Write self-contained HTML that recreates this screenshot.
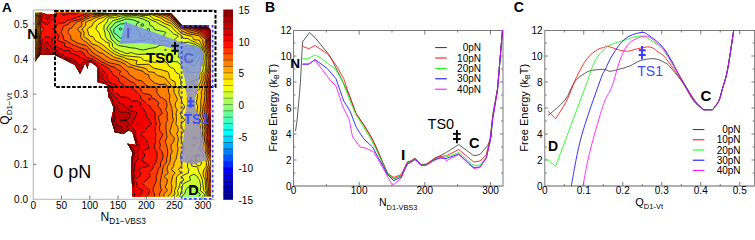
<!DOCTYPE html><html><head><meta charset="utf-8"><style>html,body{margin:0;padding:0;background:#fff;width:755px;height:224px;overflow:hidden;position:relative}</style></head><body>
<svg width="755" height="224" viewBox="0 0 755 224" style="position:absolute;left:0;top:0">
<g font-family="Liberation Sans, sans-serif">
<clipPath id="reg"><path d="M35.0,13.0 41.0,12.5 47.0,14.5 53.0,14.5 56.0,12.8 171.0,13.3 182.5,25.5 207.5,25.5 211.0,31.0 211.0,196.5 132.5,196.5 131.2,165.0 131.2,160.0 132.5,152.5 127.5,143.8 136.2,145.0 132.5,132.5 128.8,130.0 123.8,133.8 115.0,132.5 111.2,120.0 113.8,108.0 110.0,98.8 108.8,97.5 106.9,85.0 104.4,83.8 97.5,82.0 97.5,67.5 94.4,64.4 91.2,62.5 88.8,62.5 87.5,68.8 85.0,62.0 83.8,66.2 80.0,73.8 75.0,65.0 67.5,61.0 55.0,55.0 40.0,55.0 35.0,62.0Z"/></clipPath>
<g clip-path="url(#reg)">
<rect x="30" y="8" width="186" height="194" fill="#00008e"/>
<path fill-rule="evenodd" fill="#0000aa" d="M216.0,202.1 30.0,202.0 30.0,8.0 216.1,8.0 216.0,202.1Z"/>
<path fill-rule="evenodd" fill="#0000c7" d="M216.0,202.0 30.0,202.0 30.0,8.0 216.1,8.0 216.0,202.0Z"/>
<path fill-rule="evenodd" fill="#0000e3" d="M216.0,202.0 30.0,202.0 30.0,8.0 216.1,8.0 216.0,202.0Z"/>
<path fill-rule="evenodd" fill="#0000ff" d="M216.0,202.0 30.0,202.0 30.0,8.0 216.1,8.0 216.0,202.0Z"/>
<path fill-rule="evenodd" fill="#002aff" d="M216.0,202.0 30.0,202.0 30.0,8.0 216.1,8.0 216.0,202.0Z"/>
<path fill-rule="evenodd" fill="#0055ff" d="M216.0,202.0 30.0,202.0 30.0,8.0 216.1,8.0 216.0,202.0Z"/>
<path fill-rule="evenodd" fill="#0080ff" d="M216.0,202.0 31.8,202.0 31.9,201.0 30.0,197.7 30.0,8.0 216.1,8.0 216.0,202.0Z"/>
<path fill-rule="evenodd" fill="#00aaff" d="M216.0,202.0 35.1,202.0 35.0,201.0 33.0,197.5 31.5,194.0 30.8,190.5 30.0,188.5 30.0,8.0 216.1,8.0 216.0,202.0Z"/>
<path fill-rule="evenodd" fill="#00d4ff" d="M216.0,202.0 38.0,202.0 37.9,201.0 36.0,197.5 35.0,194.0 34.0,192.8 33.1,191.0 32.2,187.2 30.0,181.2 30.0,8.0 216.1,8.0 216.0,202.0Z"/>
<path fill-rule="evenodd" fill="#00ffff" d="M216.0,202.0 41.0,202.0 40.7,201.0 38.2,197.5 37.8,194.0 35.0,190.5 35.1,187.0 31.3,176.5 31.3,173.0 30.0,167.1 30.0,8.0 216.1,8.0 216.0,202.0Z"/>
<path fill-rule="evenodd" fill="#22ffdd" d="M216.0,202.0 43.7,202.0 42.9,200.5 40.4,197.5 40.3,193.8 39.8,192.0 38.9,190.0 38.0,186.0 35.5,180.0 33.7,176.5 34.5,173.0 33.0,169.5 32.4,165.8 30.0,158.0 30.0,8.0 216.1,8.0 216.0,202.0Z"/>
<path fill-rule="evenodd" fill="#44ffbb" d="M216.0,202.0 46.5,202.0 44.9,199.0 43.8,197.5 44.0,194.0 43.2,190.5 41.4,187.0 40.9,183.5 38.7,180.0 36.1,176.5 38.0,173.0 35.6,169.5 35.1,166.0 34.3,162.5 33.8,159.0 32.3,155.5 32.1,151.8 30.8,145.0 30.0,143.3 30.0,8.0 216.1,8.0 216.0,202.0Z"/>
<path fill-rule="evenodd" fill="#66ff99" d="M216.0,202.0 50.1,202.0 49.4,201.0 48.0,197.5 47.7,193.5 46.6,190.5 44.5,187.0 43.7,183.5 41.5,179.5 39.0,176.5 41.6,173.0 39.2,170.5 38.4,169.2 37.1,162.5 37.0,159.0 35.4,155.2 34.8,152.0 34.7,148.2 33.8,144.8 32.4,141.2 32.2,138.0 31.6,136.0 30.8,131.0 30.9,127.5 30.0,125.6 30.0,41.7 30.4,39.5 30.3,36.0 30.7,32.5 30.7,29.0 30.0,25.5 30.0,8.0 216.1,8.0 216.0,202.0ZM120.8,30.0 122.2,29.0 120.5,27.9 118.9,29.0 120.2,30.1 120.8,30.0ZM194.0,53.8 194.0,53.4 193.5,53.5 193.6,53.8 194.0,53.8Z"/>
<path fill-rule="evenodd" fill="#88ff77" d="M216.0,202.0 54.2,202.0 51.4,195.0 50.1,190.5 48.7,189.0 47.5,187.1 46.4,183.5 44.2,180.0 43.6,177.8 42.7,176.5 43.5,175.2 44.0,173.0 43.0,171.2 41.2,169.2 40.0,162.5 39.8,158.8 37.5,152.0 37.4,148.2 35.8,141.5 36.1,138.0 34.5,136.0 33.6,134.5 33.6,127.5 31.6,123.8 31.7,120.2 30.1,113.2 30.0,49.5 30.6,46.5 30.6,43.2 31.1,39.8 31.1,36.0 31.5,32.5 30.6,18.5 31.1,15.0 30.0,10.2 30.0,8.0 216.1,8.0 216.0,202.0ZM120.8,38.2 123.2,37.6 124.8,36.7 126.9,34.8 127.7,32.5 128.6,31.0 129.8,30.0 131.6,29.0 129.6,27.2 127.0,25.5 126.2,22.2 126.0,22.2 125.5,23.2 124.8,23.7 120.5,24.0 119.5,24.5 115.0,27.6 113.7,29.0 114.0,32.5 114.8,33.8 117.0,34.8 120.2,38.1 120.8,38.2ZM194.3,55.5 195.5,54.4 196.1,53.5 195.2,51.5 194.1,50.0 193.8,49.9 190.3,50.2 188.2,51.4 187.3,53.5 188.2,54.7 191.2,55.5 193.8,55.7 194.3,55.5Z"/>
<path fill-rule="evenodd" fill="#aaff55" d="M216.0,202.0 58.8,202.0 56.4,198.2 54.4,194.2 53.6,190.5 51.5,188.8 49.9,187.0 49.0,183.1 48.2,181.9 46.5,180.0 47.8,176.5 46.4,173.0 45.6,169.8 44.2,167.8 43.3,166.0 42.8,162.5 42.9,159.0 41.8,155.2 40.2,151.8 39.5,145.0 38.7,141.2 38.5,138.0 37.6,136.2 35.9,134.2 36.5,130.8 36.3,127.5 33.9,123.8 33.0,113.2 32.9,109.8 32.0,106.2 30.8,99.2 31.3,88.8 30.3,85.2 30.7,81.8 30.0,79.9 30.0,73.4 30.4,71.2 30.0,70.3 30.0,60.1 30.8,55.8 30.9,53.5 30.7,50.2 31.5,46.5 32.3,32.5 31.4,18.5 32.0,15.0 30.9,8.0 216.0,8.0 216.0,202.0ZM121.2,42.2 126.0,41.6 131.8,41.6 137.2,40.9 143.0,40.8 146.0,39.9 147.8,39.0 150.0,38.5 150.6,37.8 150.9,36.0 150.0,34.2 148.8,32.8 146.2,34.3 145.2,35.5 144.3,37.0 143.6,37.5 142.8,37.6 140.5,36.6 139.9,36.0 140.0,32.5 138.8,31.2 137.2,30.2 136.4,29.0 136.2,25.5 136.6,24.5 137.2,23.2 139.0,22.6 139.4,22.2 139.3,22.0 137.5,21.6 134.9,20.5 131.8,19.5 126.0,18.9 121.5,20.7 116.9,22.0 115.0,23.0 109.8,29.0 111.0,30.9 112.7,34.8 114.8,38.1 116.5,39.8 120.2,42.3 121.2,42.2ZM143.2,26.2 143.7,25.5 143.0,23.6 141.5,24.0 141.0,24.7 140.8,25.5 142.0,26.1 143.2,26.2ZM148.8,32.0 149.5,29.2 149.2,28.8 148.5,28.5 147.2,28.9 147.0,29.2 148.0,31.2 148.8,32.0ZM154.7,43.2 154.9,43.0 154.6,39.5 154.2,39.3 152.7,39.5 152.6,39.8 153.5,41.2 153.8,43.0 154.2,43.4 154.7,43.2ZM189.7,59.8 194.0,59.0 195.2,57.2 197.1,55.8 198.0,54.0 198.0,53.0 197.3,50.2 194.0,47.9 188.2,48.3 185.0,49.2 183.0,50.2 182.4,53.5 182.8,54.2 185.1,57.0 188.2,59.9 189.7,59.8Z"/>
<path fill-rule="evenodd" fill="#ccff33" d="M216.0,202.0 202.0,202.0 201.5,200.5 200.4,199.0 199.5,198.2 197.9,197.5 199.5,196.0 200.3,194.0 197.7,192.0 195.7,188.2 194.8,187.5 193.8,187.2 188.2,187.3 186.6,188.8 185.7,190.5 184.9,193.2 182.8,195.7 182.0,197.5 182.4,199.2 183.2,201.0 182.2,202.0 62.5,202.0 62.3,201.0 60.5,199.2 59.3,197.5 57.7,194.0 56.9,190.5 55.2,188.8 52.4,187.0 51.9,183.5 51.8,180.0 51.0,179.1 50.4,177.8 49.1,173.0 48.6,169.5 46.2,165.8 45.6,162.5 46.3,159.0 44.4,155.5 44.6,152.0 43.4,150.5 42.6,148.5 40.9,137.8 39.7,134.2 39.7,130.8 39.1,127.5 36.4,123.8 35.8,120.2 36.0,109.8 34.6,106.2 33.2,99.2 33.4,95.8 33.0,92.2 33.2,88.8 32.4,85.0 32.0,81.8 30.8,78.2 31.6,71.2 30.1,67.8 30.9,64.2 30.9,60.8 31.6,57.0 31.8,53.8 31.6,50.2 32.4,46.5 33.1,32.8 32.3,18.5 32.9,15.0 32.4,11.5 32.5,8.0 216.0,8.0 216.0,202.0ZM143.4,50.0 150.5,48.3 156.0,47.5 160.0,45.0 165.8,45.7 167.5,45.2 168.5,44.7 169.2,43.8 169.6,43.0 168.8,42.0 167.8,41.2 165.5,40.5 160.0,41.0 158.8,39.5 159.9,38.2 162.0,37.5 163.1,36.8 164.4,34.5 165.8,33.0 165.9,32.5 165.5,32.2 163.5,31.6 157.0,30.3 154.5,29.6 153.6,27.5 153.0,26.7 151.8,26.0 150.0,25.5 149.4,22.0 143.0,19.0 137.2,17.3 131.8,16.9 126.0,16.8 123.0,17.6 120.5,18.6 114.5,20.1 113.0,20.7 112.0,21.5 108.2,26.0 106.7,29.0 107.8,30.7 109.3,32.5 111.4,39.5 113.5,41.1 117.3,44.8 118.5,45.4 120.2,45.9 124.2,46.4 130.0,47.7 135.8,48.3 140.8,49.7 143.4,50.0ZM194.2,65.5 197.0,62.9 199.5,58.5 199.9,57.0 200.0,53.5 199.9,50.2 199.2,49.2 196.8,47.4 193.8,45.9 188.2,45.9 182.5,46.9 177.0,47.1 175.8,47.7 174.8,48.5 173.9,50.0 174.1,50.2 177.1,51.5 178.2,52.5 178.9,53.5 178.8,55.3 178.2,57.0 178.3,57.2 182.8,59.1 184.5,60.5 186.2,62.4 188.2,63.7 191.2,64.2 193.8,65.7 194.2,65.5ZM166.2,50.2 166.4,50.0 165.8,49.5 164.5,50.0 165.5,50.4 166.2,50.2Z"/>
<path fill-rule="evenodd" fill="#eeff11" d="M216.0,202.0 205.4,202.0 205.0,201.0 204.9,197.5 204.3,194.0 200.2,190.5 200.8,187.0 200.3,183.5 199.5,179.7 198.2,178.4 197.5,176.5 194.0,174.1 189.3,176.5 190.7,180.0 183.7,183.5 182.8,184.6 181.9,187.0 181.8,190.5 180.7,194.0 178.2,199.0 176.7,201.0 176.9,202.0 66.5,202.0 66.6,201.0 64.0,199.4 62.8,198.2 62.2,197.5 62.7,194.0 60.7,190.5 58.3,187.0 58.1,183.5 56.5,182.2 54.7,179.0 52.4,176.5 50.9,168.5 49.3,162.5 49.2,159.0 47.0,155.5 48.1,152.0 47.1,150.2 45.4,148.5 44.9,147.0 44.3,145.0 44.1,141.2 42.7,134.5 42.7,130.8 41.8,127.2 39.2,123.8 39.2,116.8 38.2,113.5 38.2,109.8 37.0,106.2 35.7,99.2 35.8,95.8 34.8,92.2 35.2,88.2 34.6,85.2 33.6,83.0 32.4,78.2 32.9,74.8 32.8,71.2 31.8,67.8 31.9,60.8 32.5,57.2 32.7,53.8 32.4,50.2 33.3,46.5 33.5,39.5 34.0,32.8 33.7,25.5 33.1,18.5 33.8,15.0 33.5,11.5 34.2,8.0 216.0,8.0 216.0,202.0ZM196.9,72.2 199.5,72.1 200.2,71.2 201.0,60.8 201.7,57.2 201.8,53.8 201.3,50.2 199.5,46.6 194.0,43.8 190.8,43.1 188.2,42.1 182.8,42.8 177.0,44.2 175.5,43.6 174.8,43.0 174.8,39.5 175.7,38.5 177.5,37.2 178.3,36.0 177.0,35.1 175.0,34.5 173.6,33.8 168.6,29.0 166.2,27.3 159.0,24.0 156.2,22.0 152.0,20.4 147.7,18.0 145.8,17.4 137.2,15.6 131.8,15.3 126.0,15.4 120.5,16.2 114.8,17.6 109.0,18.0 108.2,18.5 107.1,22.0 104.2,25.5 103.8,29.0 105.0,32.5 105.2,36.0 106.2,37.5 107.2,39.6 110.4,41.5 112.2,43.0 112.6,46.5 114.8,48.7 116.8,49.4 120.5,51.3 123.8,52.4 126.0,53.6 131.8,52.6 134.5,53.8 137.5,54.4 148.8,54.0 154.2,54.5 156.2,53.9 160.0,53.7 165.8,55.9 171.2,55.0 172.0,56.0 172.3,57.2 171.9,58.5 170.9,59.5 170.4,60.5 171.2,61.6 177.0,61.7 180.8,64.8 181.4,65.8 182.1,67.8 185.2,68.3 186.5,68.9 187.1,69.8 187.5,71.2 188.2,71.9 193.8,72.5 196.9,72.2Z"/>
<path fill-rule="evenodd" fill="#ffed00" d="M216.0,202.0 207.4,202.0 206.9,200.8 205.8,193.5 205.2,191.9 203.6,190.5 202.4,180.0 200.5,174.9 199.1,172.8 198.1,169.5 197.8,167.4 196.9,166.8 193.5,166.5 191.7,166.0 190.8,161.5 190.0,161.2 188.2,161.2 187.7,162.5 187.5,166.0 187.9,167.8 188.9,169.5 188.3,173.0 182.8,175.5 181.5,176.5 184.0,180.0 181.2,181.6 179.8,183.5 179.0,187.5 177.5,190.5 178.3,194.0 177.0,196.0 175.1,197.8 174.4,199.5 173.8,202.0 70.5,202.0 70.6,201.0 70.2,200.5 65.7,197.5 68.1,194.0 65.6,191.5 62.1,187.0 61.4,183.5 60.1,181.5 58.6,180.0 57.4,176.8 56.0,174.8 55.0,173.0 54.0,169.5 53.6,162.5 50.3,155.5 50.1,152.0 49.8,151.0 46.6,145.0 46.6,141.2 45.0,134.5 45.5,130.8 44.5,127.2 42.0,123.8 42.5,120.2 42.1,116.8 40.6,113.2 40.3,109.8 39.5,106.2 37.0,92.2 36.6,85.2 34.7,81.8 34.0,78.2 34.6,74.8 32.8,62.0 33.6,53.8 33.3,50.0 34.2,46.5 34.4,43.0 34.2,39.5 34.8,32.8 34.5,29.0 34.6,25.5 33.9,18.5 34.8,15.0 34.5,11.5 35.8,8.0 216.0,8.0 216.0,202.0ZM188.4,91.5 189.6,90.0 191.2,87.4 192.2,86.6 194.0,85.9 194.6,85.2 194.0,84.4 192.3,83.2 191.4,81.8 192.2,81.0 193.3,80.5 199.5,78.9 199.8,78.0 199.7,74.8 202.8,71.0 203.3,67.8 202.9,64.2 202.9,60.8 203.6,57.2 203.5,53.8 202.7,50.0 201.0,46.5 199.5,44.5 195.5,42.3 191.2,40.7 188.2,38.6 184.5,38.4 182.8,37.9 182.0,36.0 176.9,32.5 172.5,28.1 171.2,26.3 170.5,25.8 164.0,23.4 159.3,20.5 154.2,19.2 153.3,18.8 152.8,18.5 151.2,16.6 148.8,15.4 143.0,15.5 137.5,14.6 126.0,14.3 120.5,14.8 109.2,16.4 107.5,17.1 105.8,18.1 103.5,20.9 98.0,24.6 97.1,25.5 96.5,27.6 95.7,29.0 97.8,31.0 99.0,32.8 101.2,38.0 102.0,38.9 103.5,39.8 105.3,41.5 107.0,42.4 109.1,43.0 109.3,43.2 109.3,46.8 112.9,50.2 120.5,54.4 126.0,55.8 140.0,57.2 141.8,58.2 143.2,60.0 144.5,60.5 151.2,61.4 154.5,62.5 160.0,60.9 162.0,61.5 165.8,62.1 167.9,64.0 168.9,65.8 170.0,66.9 171.2,67.7 173.1,68.2 174.0,68.9 174.6,69.8 175.2,71.5 176.0,72.5 177.0,73.2 178.8,73.8 179.6,74.5 179.8,78.2 180.5,79.6 180.9,81.5 181.0,85.2 182.5,86.2 185.0,87.3 186.0,88.5 186.9,90.8 187.8,91.5 188.2,91.7 188.4,91.5ZM188.6,100.5 190.4,99.2 189.7,97.8 188.2,96.8 187.5,97.7 187.1,99.2 188.2,100.7 188.6,100.5ZM188.6,114.5 190.9,114.0 192.1,113.2 190.5,112.5 188.2,112.1 185.8,113.2 187.5,114.2 188.6,114.5ZM193.8,125.0 194.0,124.9 194.2,124.0 194.0,123.4 193.8,123.4 193.2,124.0 193.8,125.0ZM194.4,138.8 196.8,138.1 197.0,137.8 194.0,136.5 193.0,137.0 192.3,137.8 193.2,138.6 194.4,138.8ZM194.1,146.0 194.9,145.0 194.8,144.8 194.0,144.3 192.7,144.8 192.6,145.0 193.2,145.8 193.8,146.2 194.1,146.0ZM199.6,166.0 200.8,164.5 201.7,162.5 199.5,161.2 195.8,161.1 195.6,160.2 195.6,157.5 195.9,156.5 196.8,156.2 199.5,156.1 199.9,155.5 199.5,154.4 196.2,155.0 195.0,155.8 193.8,156.0 192.5,156.8 190.9,158.8 191.0,161.0 195.5,161.2 195.7,162.8 196.5,164.5 197.8,165.5 199.6,166.0Z"/>
<path fill-rule="evenodd" fill="#ffc800" d="M216.0,202.0 209.4,202.0 208.4,200.0 206.8,193.0 205.9,190.5 205.5,187.0 205.2,180.0 203.5,176.5 203.0,173.0 204.0,169.5 205.2,168.4 206.3,166.0 206.4,162.5 205.4,158.8 203.7,156.8 202.1,152.0 199.8,149.8 197.8,148.5 198.1,148.0 199.8,146.6 200.9,145.0 200.6,141.5 201.0,137.8 200.4,131.0 200.6,127.2 199.9,125.0 199.3,123.8 199.8,122.5 200.2,120.2 199.5,118.9 198.2,118.0 197.4,116.8 196.7,113.2 197.7,106.2 196.2,102.8 197.8,95.8 196.9,93.8 195.8,92.2 197.2,90.5 199.5,89.2 199.8,88.8 198.7,85.2 199.8,83.5 201.8,78.2 201.9,74.8 205.2,70.9 205.6,67.8 204.9,64.0 204.9,60.8 205.4,57.2 205.2,53.8 204.1,50.0 202.4,46.0 200.4,43.0 199.5,40.4 197.8,40.0 193.9,39.8 193.5,39.5 192.6,37.2 191.6,36.2 186.8,35.2 182.5,33.9 180.5,32.5 177.6,29.0 175.0,27.2 171.2,23.6 165.8,21.6 160.0,17.6 152.5,15.0 148.8,14.4 143.0,14.5 132.5,13.7 126.2,13.6 119.2,14.0 109.0,15.2 105.8,16.1 102.8,17.7 99.3,18.5 98.0,19.0 96.1,20.8 93.8,22.2 92.2,25.8 87.3,29.0 88.6,34.2 89.1,35.2 89.8,36.0 92.0,36.5 93.2,37.2 94.0,38.2 94.8,39.8 96.1,41.0 103.2,45.0 106.2,48.0 110.5,51.4 116.8,55.1 119.0,56.0 123.4,57.2 126.2,58.6 137.2,60.7 136.3,63.0 136.1,64.0 136.4,64.2 137.5,64.5 148.8,64.3 153.2,67.8 154.2,68.3 161.2,69.7 167.8,71.8 168.2,72.3 168.7,73.2 169.7,78.2 171.2,79.8 175.0,81.8 175.3,85.2 177.0,87.0 179.6,88.8 178.6,92.2 179.8,95.9 181.4,99.2 181.8,102.8 183.6,104.5 184.6,106.2 183.8,109.0 181.9,110.8 180.1,113.2 181.2,115.6 183.9,118.8 184.8,120.2 184.0,121.2 182.0,122.7 181.1,124.0 181.3,127.5 182.5,129.4 184.4,130.8 184.4,131.0 182.5,132.9 181.5,134.2 181.0,137.8 181.6,142.0 182.2,143.8 183.2,145.5 183.9,148.5 182.6,151.8 181.2,153.6 180.4,155.5 180.7,159.8 181.7,162.5 181.7,165.8 179.6,168.0 178.6,169.5 179.8,171.2 180.7,173.0 176.7,176.5 176.3,180.0 176.1,187.0 174.5,190.5 175.1,194.0 170.9,197.5 171.4,201.0 170.8,202.0 74.0,202.0 72.6,199.2 71.8,198.4 70.3,197.5 71.5,196.0 72.4,194.0 69.2,190.5 65.8,185.8 63.6,180.0 61.4,176.5 61.3,174.2 61.0,173.2 59.0,172.6 58.2,172.1 57.4,169.2 57.2,166.0 57.5,162.5 54.9,159.0 54.5,155.5 52.8,153.6 52.1,152.0 50.8,145.0 49.8,142.3 48.7,137.0 47.8,134.5 48.4,130.8 47.1,127.2 45.0,123.8 45.5,120.2 43.1,113.2 42.9,109.8 42.0,106.2 40.9,99.2 39.6,95.8 39.6,92.2 38.5,88.8 38.4,85.2 37.7,83.2 36.5,81.5 35.8,79.0 35.6,78.2 36.2,74.8 35.1,71.2 35.2,67.8 34.0,64.2 33.6,62.0 34.3,57.5 34.5,54.2 34.1,50.0 35.1,46.5 35.3,43.2 35.0,39.5 35.5,36.0 35.6,32.8 35.2,29.0 35.5,25.5 34.8,18.5 35.7,15.0 35.6,11.5 36.9,8.0 216.0,8.0 216.0,202.0ZM126.8,11.8 129.2,11.2 129.8,11.0 130.2,10.5 129.1,9.8 126.0,8.9 123.0,9.8 121.6,10.5 121.9,11.0 122.5,11.2 125.4,11.8 126.8,11.8Z"/>
<path fill-rule="evenodd" fill="#ffa400" d="M167.5,202.0 82.1,202.0 81.8,201.0 81.0,200.1 78.5,199.1 77.0,197.8 76.5,194.0 72.2,189.0 70.2,185.8 68.4,183.5 68.0,180.0 65.7,176.5 66.7,173.0 64.8,171.5 61.3,169.5 60.6,162.5 59.6,160.8 58.0,159.0 59.3,155.5 58.9,154.0 56.2,147.6 55.5,145.0 52.4,141.5 52.6,138.0 53.2,134.2 51.5,130.8 49.6,127.5 48.4,123.8 48.3,120.2 46.4,116.8 45.8,113.2 45.7,109.8 43.8,102.8 43.7,99.2 41.6,95.8 42.0,92.2 40.1,88.8 40.5,81.8 39.2,80.2 38.1,78.2 37.9,74.8 36.6,71.2 37.0,67.8 35.0,64.2 34.4,62.5 35.3,54.8 35.0,50.0 36.1,45.8 36.3,43.0 35.8,39.5 36.5,36.0 36.7,32.8 36.3,29.0 36.6,25.5 35.6,18.5 36.7,15.0 37.1,11.5 38.0,8.0 112.0,8.0 110.5,9.0 110.1,9.5 110.1,10.0 111.2,10.8 113.1,11.2 120.5,12.6 126.0,12.9 133.2,12.8 133.2,13.0 133.0,13.2 120.5,13.3 109.0,14.2 103.9,15.2 96.0,17.6 93.8,18.5 91.5,19.8 85.8,22.0 85.5,25.5 84.0,27.3 81.9,29.0 83.2,30.8 84.1,32.5 83.9,36.2 85.9,38.2 89.0,40.0 90.1,41.2 90.9,43.0 92.0,43.9 96.2,45.3 98.5,46.2 102.2,49.2 114.5,57.3 120.5,59.0 124.5,61.1 128.0,62.6 130.1,64.2 131.8,65.1 145.0,68.2 146.7,69.2 148.0,71.2 148.5,71.6 154.0,72.4 155.0,73.2 156.3,74.8 157.5,75.4 164.2,77.4 165.8,78.6 167.0,80.4 169.5,83.1 171.1,85.5 174.0,88.8 174.0,92.2 175.9,95.8 177.4,99.2 177.0,100.4 175.5,102.8 175.2,106.2 176.2,108.2 177.3,109.8 176.1,113.2 176.5,120.2 175.8,123.8 178.0,127.5 178.2,130.8 176.8,134.2 177.7,136.0 178.3,137.8 178.1,141.5 177.2,145.0 178.2,148.5 176.1,159.0 174.2,162.5 173.7,166.0 171.5,169.5 175.2,173.0 173.6,174.5 172.5,176.5 171.2,183.5 172.0,187.0 171.4,192.0 170.6,194.0 168.8,195.2 167.8,197.0 167.6,197.8 168.2,201.0 167.5,202.0ZM216.0,202.0 211.2,202.0 209.6,199.0 208.2,194.8 207.3,190.5 206.9,187.0 206.5,180.0 205.7,176.2 205.8,173.0 206.5,169.5 208.2,166.0 208.7,162.5 207.5,159.0 205.9,155.5 205.2,151.6 202.1,148.5 204.0,145.0 202.6,141.2 202.8,138.0 202.4,134.2 202.8,130.8 202.2,124.0 202.3,120.2 200.6,116.8 199.8,113.2 200.6,109.8 200.8,106.5 200.7,102.8 201.5,95.8 201.1,92.2 202.4,88.8 201.5,85.2 203.8,78.2 204.0,74.8 205.2,73.4 206.4,71.2 206.9,67.8 206.6,64.0 206.7,57.2 206.5,53.8 205.5,50.0 202.8,43.0 202.7,39.8 201.0,38.1 199.5,35.9 188.2,33.7 184.0,32.0 182.5,31.1 180.3,29.0 177.5,27.1 171.2,21.3 161.3,16.0 156.5,14.8 148.8,13.7 143.0,13.7 133.1,13.2 133.2,13.0 148.8,12.4 150.5,11.8 151.1,11.2 151.0,10.7 150.2,10.0 145.1,8.0 216.0,8.0 216.0,202.0Z"/>
<path fill-rule="evenodd" fill="#ff8000" d="M164.2,202.0 85.9,202.0 85.2,201.0 84.4,198.5 82.2,196.2 81.0,194.0 76.8,189.3 75.2,188.1 74.3,187.0 74.8,185.5 75.8,183.5 75.7,180.0 72.8,178.8 71.3,177.5 70.5,176.5 69.9,173.0 67.8,171.0 65.5,169.5 65.5,166.0 63.8,163.8 62.4,158.2 62.0,155.5 62.2,152.0 60.4,148.5 59.7,144.8 56.5,141.2 56.3,138.0 56.4,134.5 55.7,132.5 54.9,130.8 52.5,128.2 51.9,127.2 52.6,123.8 51.5,121.8 49.7,116.8 49.5,113.2 48.5,109.0 47.7,106.5 46.1,102.8 46.4,99.0 43.9,92.0 42.0,88.8 42.6,85.2 42.8,81.8 40.5,78.0 39.6,74.8 38.2,71.2 38.8,67.5 35.2,61.8 35.9,58.5 36.2,55.0 35.8,50.0 37.0,46.5 37.4,43.2 36.9,39.5 37.6,36.0 37.8,32.5 37.7,25.5 36.8,18.5 38.5,11.5 39.1,8.0 105.5,8.0 104.9,9.0 104.8,10.0 105.2,10.8 106.5,11.5 109.2,12.3 117.6,13.0 109.2,13.5 105.1,14.0 97.8,15.8 92.2,16.7 86.5,19.1 84.2,20.7 81.5,22.0 82.0,25.5 81.0,26.4 78.8,27.7 77.7,29.0 78.1,30.2 78.8,31.2 80.9,32.5 80.8,34.7 80.4,36.0 81.9,38.8 83.5,40.4 86.5,42.2 89.0,44.6 97.8,51.6 100.0,52.7 103.5,53.8 105.5,55.8 108.2,57.3 110.4,58.8 112.0,59.5 115.0,60.1 120.5,62.0 125.4,64.2 126.5,65.8 127.8,66.6 133.3,67.8 134.8,68.7 136.2,69.4 143.0,71.2 143.9,72.5 145.0,73.4 146.5,74.1 148.7,74.8 149.2,78.2 154.5,82.9 160.0,84.6 165.5,84.1 166.7,85.2 167.4,87.2 168.3,88.8 168.6,92.2 170.1,95.8 169.2,99.2 170.2,103.3 171.4,106.2 172.6,113.2 172.5,116.8 173.5,120.2 171.8,123.8 171.1,127.2 170.2,129.5 169.8,131.0 171.2,134.5 174.5,138.0 173.7,141.5 171.0,145.0 171.1,148.5 172.4,152.0 171.2,153.5 170.4,155.2 170.6,159.0 169.7,162.5 168.9,164.2 167.5,166.2 167.0,169.5 168.3,173.0 167.2,174.0 165.5,175.1 164.5,176.5 165.2,177.6 166.8,178.9 167.6,180.0 166.6,184.0 165.2,187.0 166.7,189.0 167.4,190.5 163.8,194.0 164.1,197.5 164.9,201.0 164.2,202.0ZM216.0,202.0 212.8,202.0 210.6,198.0 209.0,194.0 208.3,187.0 208.2,183.5 207.4,176.5 207.4,173.0 208.1,169.5 210.0,166.0 210.9,162.5 209.5,159.0 207.5,155.5 206.7,151.8 205.6,148.5 206.0,145.0 204.7,141.2 204.1,134.5 205.2,130.8 204.2,127.2 204.9,123.8 204.4,120.2 202.7,116.8 202.0,113.2 202.8,109.8 203.0,106.2 204.0,102.8 204.8,95.8 204.7,92.2 205.1,88.8 203.9,85.2 205.2,80.5 206.0,74.8 207.7,71.2 208.2,67.8 208.3,60.8 207.8,53.8 207.1,50.2 205.6,46.5 205.2,43.0 205.5,39.5 199.5,34.3 188.2,31.7 183.7,29.2 181.0,28.1 178.0,25.9 171.2,19.1 169.2,17.5 167.7,16.8 164.5,15.5 160.0,14.4 148.8,13.2 154.5,12.3 160.0,11.9 160.6,11.5 160.6,10.5 160.0,9.7 154.1,8.0 216.0,8.0 216.0,202.0Z"/>
<path fill-rule="evenodd" fill="#ff5b00" d="M160.8,202.0 93.7,202.0 93.5,201.0 91.0,199.2 88.3,196.0 82.0,190.5 81.2,187.1 80.3,185.5 79.7,183.5 80.3,180.0 78.2,178.3 74.4,176.5 74.2,172.8 72.8,170.9 70.7,169.5 72.4,166.0 69.2,162.2 65.4,155.5 65.8,152.0 63.1,148.2 63.7,144.8 63.2,142.2 62.9,141.5 61.3,140.0 60.4,138.5 60.1,137.8 59.8,134.2 58.9,131.8 57.8,129.6 56.0,127.2 57.0,123.8 54.6,120.2 53.7,118.2 53.4,116.8 53.6,113.2 51.7,109.8 51.5,106.2 50.2,102.8 49.6,99.2 48.7,95.8 46.4,93.0 44.7,88.8 45.5,85.2 44.6,81.5 41.2,74.7 39.9,71.2 40.7,67.8 38.5,64.2 37.2,61.0 36.4,60.0 37.1,54.2 36.9,50.0 38.1,46.5 38.4,43.2 38.1,39.5 38.6,36.0 39.2,29.0 37.9,18.5 38.9,14.2 40.0,11.5 40.2,8.0 101.3,8.0 100.9,9.0 100.9,10.0 101.8,11.2 104.1,12.2 108.8,13.0 103.5,13.5 97.8,14.8 95.0,15.0 92.0,14.7 85.6,17.8 81.1,20.5 76.7,22.0 73.8,25.1 72.2,27.4 71.2,28.1 69.2,29.0 67.8,32.5 70.7,36.0 71.0,39.5 73.5,40.7 77.5,43.0 86.5,45.9 88.7,48.0 92.2,52.3 95.5,54.5 99.8,56.9 105.4,60.8 109.2,62.7 117.2,64.4 120.5,65.5 123.5,68.7 125.8,70.3 127.4,71.2 129.5,75.0 133.2,76.9 135.1,78.8 136.7,79.8 140.8,80.6 142.3,81.2 146.0,85.3 148.8,86.6 154.2,87.3 156.3,88.2 157.0,88.8 156.8,92.2 160.0,97.0 162.5,97.9 164.1,99.2 165.8,100.2 166.7,102.8 167.1,106.2 165.7,109.8 167.6,113.2 167.0,116.8 167.3,118.8 167.9,120.2 166.7,121.8 165.9,123.8 166.1,130.8 166.7,134.2 166.9,137.8 165.8,139.9 165.3,141.5 167.3,148.2 167.8,152.0 167.4,155.5 166.6,159.0 166.5,162.5 164.6,164.5 163.7,166.0 162.6,169.5 162.3,173.0 161.4,175.5 160.3,182.5 160.2,183.5 160.5,187.0 161.4,190.5 160.4,192.0 159.4,194.0 160.2,197.5 161.2,201.0 160.8,202.0ZM216.0,202.0 214.3,202.0 210.8,195.8 210.0,194.0 209.7,183.5 209.0,176.5 209.1,173.0 209.7,169.5 211.6,166.0 212.2,162.5 211.4,159.0 209.1,155.2 207.1,148.5 207.2,145.0 206.2,141.2 206.2,137.8 205.8,134.5 206.6,130.8 205.8,127.2 206.3,123.8 206.1,120.8 204.8,116.8 204.3,113.2 204.9,109.8 205.1,106.2 206.2,102.8 206.6,95.8 206.4,92.2 206.7,88.8 206.0,85.2 207.7,74.8 208.8,71.8 209.5,67.8 210.0,60.8 209.3,57.2 209.1,53.5 208.5,50.2 206.8,46.5 206.5,39.5 205.2,37.4 199.5,32.7 193.8,30.9 188.2,29.7 186.7,29.0 181.5,27.4 179.1,25.5 177.0,23.1 173.2,19.5 171.2,17.1 169.8,15.8 166.2,14.8 160.9,13.8 154.0,13.2 160.0,12.8 163.2,11.8 163.8,11.0 163.8,10.0 163.2,9.0 161.9,8.0 216.0,8.0 216.0,202.0Z"/>
<path fill-rule="evenodd" fill="#ff3700" d="M151.8,202.0 102.6,202.0 101.2,201.0 97.8,199.3 95.4,197.5 92.2,194.2 90.6,192.0 88.6,190.5 89.0,187.0 88.2,185.5 87.6,183.5 85.1,182.2 83.9,181.0 83.4,180.0 82.5,176.5 80.8,173.2 77.5,168.5 76.6,165.8 75.0,162.5 73.8,159.0 71.7,157.5 70.1,155.5 67.8,146.5 67.2,141.2 65.9,139.5 64.0,137.8 63.5,134.5 62.9,132.5 62.2,130.8 60.5,127.2 60.7,123.8 59.3,120.2 57.5,118.2 56.5,116.8 56.4,113.2 55.0,109.8 55.5,106.2 55.7,102.8 54.3,101.8 53.4,100.5 51.7,95.8 48.4,92.2 47.7,88.8 48.4,85.2 46.9,82.8 45.1,78.2 44.3,74.8 41.7,71.2 42.5,68.5 42.5,67.5 40.3,64.2 38.9,60.5 37.4,58.5 37.9,54.8 37.9,50.2 39.1,46.5 39.5,43.0 39.2,39.5 40.7,29.0 40.0,26.2 39.3,22.2 39.1,18.5 39.7,15.0 40.5,13.1 41.5,11.5 41.3,8.0 97.6,8.0 97.2,9.8 97.5,10.5 98.0,11.0 100.4,12.2 103.9,13.0 95.0,14.1 94.0,13.9 92.2,13.0 91.0,13.2 87.0,15.5 83.6,17.0 81.0,18.9 70.1,22.0 68.9,23.8 68.1,24.5 64.0,25.9 63.2,27.2 61.1,32.5 63.2,36.0 63.6,39.5 67.4,41.5 72.0,44.5 76.0,45.9 79.2,47.5 83.5,48.7 86.5,49.8 88.4,53.5 90.5,55.2 96.8,58.6 100.8,61.3 104.6,63.0 109.0,65.6 115.2,67.5 117.8,69.7 120.5,70.9 120.8,71.2 119.7,73.2 119.4,74.8 120.5,75.5 122.8,76.2 124.5,77.1 130.4,81.5 132.8,82.3 134.0,82.9 135.0,83.9 135.8,85.2 137.2,86.7 140.7,88.8 141.7,92.2 142.8,93.2 143.2,93.5 148.8,94.4 151.0,95.4 151.5,95.8 151.6,97.5 152.0,98.3 154.2,98.7 157.0,100.9 158.7,102.8 158.4,104.8 157.9,106.2 160.2,108.5 162.3,113.2 161.4,114.2 159.6,115.5 158.5,116.8 159.0,120.2 160.3,123.8 159.5,127.2 159.6,130.8 161.8,132.9 162.7,134.5 161.7,137.0 159.4,141.2 160.4,145.0 159.6,148.2 160.0,149.2 161.0,150.2 162.0,151.8 163.0,155.5 162.6,159.0 161.6,161.0 160.4,162.5 160.6,166.0 160.0,167.2 158.0,169.5 157.3,173.5 156.0,176.5 156.6,180.0 153.3,188.0 153.1,190.5 153.7,192.2 154.6,194.0 154.8,197.5 153.2,198.8 152.2,199.9 151.6,201.0 152.0,202.0 151.8,202.0ZM216.0,202.0 214.8,200.3 211.2,194.0 211.4,190.5 211.1,183.5 210.6,180.0 210.7,173.0 211.3,169.5 212.8,166.0 213.5,162.5 212.9,159.0 210.7,155.2 209.5,152.0 208.6,148.5 208.4,144.8 207.4,141.2 207.8,137.8 207.4,134.2 207.9,130.8 207.2,127.2 207.5,123.8 207.4,120.2 206.6,116.8 206.6,113.2 207.1,109.8 206.9,106.2 207.8,102.8 207.8,99.2 208.2,95.8 207.8,92.2 208.3,88.8 207.6,85.0 207.8,81.8 209.7,73.8 210.8,67.8 211.4,60.8 210.5,57.2 210.5,53.5 209.9,50.2 208.0,46.5 207.5,39.5 206.5,37.4 205.2,35.7 202.8,33.5 199.8,31.2 194.0,29.1 188.2,28.3 182.0,26.9 180.2,25.5 177.2,22.0 173.7,18.8 171.5,15.8 170.5,14.8 161.2,13.2 164.6,12.5 167.1,11.2 167.5,10.8 167.5,10.0 166.4,8.0 216.0,8.0 216.0,202.0ZM148.8,99.8 150.9,99.2 148.8,98.9 148.3,99.2 148.8,99.8Z"/>
<path fill-rule="evenodd" fill="#ff1200" d="M146.5,202.0 108.0,202.0 107.0,201.0 103.8,196.9 101.2,195.4 99.0,193.6 97.8,192.9 95.6,190.8 94.6,185.8 93.5,183.8 86.3,180.0 86.5,179.1 88.5,176.5 86.5,174.8 85.2,173.0 84.4,169.5 81.0,167.6 79.6,166.0 78.8,162.5 78.4,159.0 77.9,158.0 77.0,157.1 75.2,156.4 74.1,155.5 74.8,151.8 74.7,148.5 73.0,146.8 71.7,145.0 71.5,141.2 70.3,138.0 68.5,136.2 67.3,134.5 65.8,128.5 64.6,125.8 62.9,120.2 62.0,118.4 60.7,116.8 60.0,113.5 59.2,108.8 59.2,106.2 60.0,102.8 56.9,100.8 55.6,99.5 55.4,99.2 55.1,95.8 51.3,92.2 51.9,90.8 53.2,88.8 48.8,81.8 47.8,78.0 47.5,74.8 44.5,71.2 44.5,67.5 41.5,63.0 39.8,59.0 38.4,57.2 38.9,50.2 40.1,46.8 40.3,45.2 40.5,43.0 40.3,39.5 41.2,32.5 41.5,31.8 43.2,30.5 43.9,29.0 41.2,26.7 40.3,22.0 40.2,18.5 40.7,15.0 41.2,13.8 43.2,11.5 43.9,8.0 93.7,8.0 93.0,9.0 91.0,10.8 86.5,13.7 74.4,18.5 67.0,20.6 64.0,22.9 59.0,23.3 58.2,23.4 57.8,23.8 56.6,25.2 56.1,27.0 55.5,28.0 54.5,28.5 52.4,29.0 52.6,29.2 54.5,29.7 55.4,30.2 55.9,31.0 56.5,32.9 58.2,34.6 59.2,36.0 57.9,39.5 58.2,40.2 59.0,41.0 60.2,41.7 64.0,42.6 64.6,43.0 64.8,43.2 64.6,46.5 65.0,46.7 69.5,47.6 71.0,48.2 72.2,49.0 73.8,50.7 75.2,51.6 81.0,51.2 83.2,53.1 85.2,56.0 86.4,57.2 92.8,59.2 95.5,60.8 98.6,63.0 103.5,65.2 105.2,66.5 107.7,67.8 110.8,70.8 113.2,74.8 116.2,76.5 118.5,78.2 118.8,80.5 119.3,81.8 120.5,82.4 124.8,86.0 126.0,86.4 130.0,86.9 131.8,87.5 132.6,88.8 137.2,92.2 138.8,94.2 140.6,95.8 141.0,99.2 144.7,101.5 145.8,102.5 147.3,104.5 150.1,106.2 151.1,108.8 153.9,111.2 155.2,113.2 155.0,117.0 155.4,120.2 156.4,123.8 155.2,127.5 155.4,132.2 156.0,134.2 155.1,137.8 155.8,141.5 154.7,145.0 154.6,148.2 156.9,152.0 157.1,155.5 156.8,158.5 155.9,162.5 155.6,163.2 153.7,165.8 152.8,168.0 151.7,169.5 150.8,171.2 149.0,173.0 149.7,174.2 150.0,176.5 149.2,177.5 147.6,178.8 145.6,181.2 142.2,183.5 144.8,185.5 146.5,187.5 148.8,189.4 149.5,190.5 149.0,192.8 148.4,194.2 147.0,196.0 144.9,197.5 146.5,200.2 146.7,201.0 146.5,202.0ZM216.0,199.9 212.8,194.0 212.7,190.5 212.3,187.0 212.5,183.5 211.9,180.0 212.1,173.0 212.8,169.5 214.1,165.8 214.8,162.5 214.7,161.5 214.4,159.0 212.4,155.5 210.9,152.0 210.1,148.2 209.6,144.8 208.7,141.2 209.4,137.8 208.9,134.2 209.2,130.8 208.6,127.2 208.8,120.2 208.3,116.8 209.1,113.2 209.3,110.0 208.7,106.2 209.4,102.8 209.3,99.2 209.8,95.8 209.2,92.2 209.9,88.8 209.1,85.2 209.1,81.8 211.1,74.8 211.4,71.2 212.1,67.5 212.5,60.8 211.8,57.0 211.3,50.2 209.3,46.5 209.1,43.0 208.5,39.5 207.7,37.2 207.0,36.0 205.2,33.7 202.9,31.8 199.5,29.6 194.0,28.0 188.2,27.3 182.2,26.4 181.2,25.5 178.3,22.2 174.5,18.5 172.2,15.5 170.8,14.0 164.7,13.2 168.7,12.5 171.5,11.4 171.7,10.8 171.5,10.0 169.9,8.0 216.0,8.0 216.0,199.9ZM95.0,13.5 94.2,13.0 94.2,12.2 94.5,11.8 100.2,13.0 95.0,13.5Z"/>
<path fill-rule="evenodd" fill="#f20000" d="M47.2,24.6 47.0,24.7 41.8,22.0 41.7,20.5 41.6,18.5 42.5,15.0 44.1,13.2 45.5,9.7 46.6,8.0 89.6,8.0 86.5,10.9 79.2,12.5 77.0,13.3 75.2,14.3 73.0,13.9 69.5,13.7 66.5,14.3 63.8,15.3 61.3,13.8 59.0,11.5 58.2,11.1 57.5,11.4 56.9,12.2 56.2,16.0 55.2,18.0 49.5,22.0 48.5,23.7 47.2,24.6ZM216.0,160.4 215.8,158.8 214.0,155.5 212.5,152.0 210.0,141.5 211.0,137.8 210.5,134.2 210.6,130.8 210.0,127.2 210.1,120.2 210.0,116.8 211.3,113.2 211.3,110.0 210.5,106.2 211.0,102.8 210.8,99.2 211.4,95.8 210.7,92.2 211.4,88.8 210.7,85.2 210.5,81.8 211.7,78.2 212.6,74.8 213.4,67.5 213.5,60.8 212.4,50.2 210.5,46.5 210.4,43.0 209.0,37.2 208.6,36.0 205.2,31.7 203.4,30.2 201.2,29.0 199.5,28.4 194.0,27.1 182.2,25.8 178.8,22.0 176.4,19.8 172.8,15.2 171.0,13.5 169.0,13.2 171.2,13.0 173.3,15.0 173.5,15.5 175.8,17.1 179.0,18.1 179.5,17.9 179.8,16.8 179.8,15.0 178.7,13.5 177.5,11.5 174.5,9.6 172.7,8.0 216.0,8.0 216.0,160.4ZM95.5,13.0 94.9,13.0 95.5,13.0ZM183.2,24.2 184.2,23.4 184.3,23.0 184.0,22.2 182.5,21.8 181.7,20.5 180.5,19.4 179.5,19.0 179.0,19.0 178.9,19.5 179.4,20.5 181.5,22.5 181.5,23.0 182.5,23.6 183.0,24.3 183.2,24.2ZM123.2,202.0 118.1,202.0 117.2,201.2 117.0,201.0 117.5,200.0 119.4,197.5 116.3,196.2 112.8,195.5 111.8,195.0 111.2,194.0 111.6,190.5 110.2,189.0 109.2,187.0 107.2,187.8 103.5,188.1 101.1,187.0 103.0,183.5 98.0,179.8 96.6,179.2 96.0,178.8 94.5,175.2 93.5,174.0 92.1,173.0 92.2,169.5 90.2,168.2 86.5,166.7 84.9,165.8 84.2,162.5 84.2,161.0 84.3,159.0 85.4,155.5 83.8,153.8 82.2,151.3 79.4,148.5 78.6,145.8 76.7,143.5 76.2,142.0 75.8,138.8 74.7,135.0 74.5,134.5 72.2,132.7 71.0,131.0 71.3,127.2 70.4,125.8 68.9,123.8 67.1,120.2 65.1,113.2 65.4,109.8 64.7,108.8 62.8,107.2 62.0,106.2 63.0,102.8 62.7,101.2 62.2,100.5 61.5,100.0 58.1,99.2 58.5,95.8 57.5,93.7 56.1,92.2 56.3,88.8 55.8,87.0 54.8,85.2 52.5,83.7 51.1,81.8 51.5,80.1 52.5,78.2 52.5,78.0 50.9,74.8 47.4,71.2 47.0,70.3 46.4,67.5 45.4,65.2 41.2,59.0 40.1,56.8 39.2,56.0 40.1,50.0 42.2,43.0 42.1,39.5 43.8,38.0 45.9,36.8 47.0,36.3 50.0,37.3 52.5,38.5 53.2,39.8 52.0,41.9 51.7,43.0 51.8,43.2 52.5,43.9 55.2,45.3 57.4,47.0 61.3,49.0 63.8,50.6 67.5,50.6 69.5,50.2 70.1,52.2 71.0,53.2 77.5,55.3 79.1,56.2 81.3,58.2 82.2,58.8 85.0,59.4 87.2,60.3 88.8,60.3 92.0,60.9 94.8,62.6 99.5,66.4 101.4,68.5 103.2,71.2 105.8,72.9 107.3,74.5 107.5,74.8 107.2,78.2 108.9,81.8 112.0,83.4 114.8,84.2 116.4,85.2 114.8,86.9 113.0,87.8 111.8,88.8 113.0,90.2 113.6,92.2 114.8,93.4 118.0,94.2 118.8,94.9 119.2,95.8 120.5,96.7 127.8,97.5 129.2,98.3 130.6,100.0 131.8,100.9 137.2,100.8 138.9,102.0 140.7,102.8 141.1,106.2 143.1,108.2 146.2,113.2 146.5,116.8 148.8,119.0 151.6,123.8 149.2,126.2 147.1,127.5 145.1,131.2 144.5,132.0 141.2,133.6 140.4,134.5 141.5,135.7 143.2,136.4 144.2,137.2 147.0,141.2 148.9,148.2 148.5,148.7 146.5,149.1 144.8,149.7 143.0,151.1 142.8,152.0 144.3,154.0 145.0,155.5 144.4,156.8 143.0,157.7 142.3,159.0 143.0,161.5 147.5,164.0 148.5,164.9 148.8,166.0 146.8,166.7 141.5,167.8 140.0,168.5 139.0,169.2 138.8,169.5 139.4,171.0 141.0,173.0 139.4,176.5 136.8,178.0 135.2,180.0 137.2,183.5 137.1,187.0 142.8,190.5 141.3,194.0 140.2,195.8 139.1,199.8 138.0,201.0 137.2,201.3 134.8,201.1 126.2,199.8 125.2,200.3 123.2,202.0ZM137.6,124.5 138.4,123.8 137.5,122.8 136.5,123.8 137.2,124.5 137.6,124.5ZM92.3,162.5 92.0,162.3 91.8,162.5 92.3,162.5ZM216.0,197.5 214.5,194.0 213.4,187.2 213.8,183.5 213.3,180.0 213.5,173.0 216.0,163.0 216.0,197.5ZM109.2,197.9 108.8,197.5 109.2,197.1 109.7,197.5 109.2,197.9Z"/>
<path fill-rule="evenodd" fill="#d90000" d="M81.2,10.0 77.8,9.7 76.2,9.2 75.2,8.6 72.2,9.2 69.5,10.0 68.5,9.2 67.6,8.0 85.7,8.0 83.8,9.2 81.2,10.0ZM216.0,156.2 214.0,151.8 213.2,148.5 212.7,145.0 211.4,141.5 212.4,137.8 212.0,134.5 211.9,130.8 211.4,127.2 211.3,124.0 211.6,117.0 212.9,113.2 213.0,110.0 212.2,106.2 212.5,102.8 212.2,99.2 212.9,95.8 212.3,92.2 212.7,88.8 212.2,85.2 212.2,81.8 214.0,74.8 214.6,67.8 214.7,64.0 214.5,57.2 213.5,50.2 211.8,46.5 211.7,43.0 210.5,39.8 210.2,36.2 208.8,34.0 206.2,30.8 205.2,29.7 204.1,29.0 199.6,27.5 194.0,26.4 182.5,25.5 187.4,24.5 188.7,23.8 188.9,23.2 187.4,21.5 183.9,18.5 182.9,15.0 181.2,13.4 179.0,10.8 175.1,8.0 216.0,8.0 216.0,156.2ZM47.0,19.6 45.8,18.5 45.9,15.0 46.5,11.5 47.0,10.6 48.9,11.5 50.2,13.6 52.4,15.0 49.9,16.2 49.1,17.2 48.5,18.5 47.0,19.6ZM175.8,18.3 175.8,18.1 175.8,18.3ZM176.0,18.6 176.0,18.3 176.2,18.5 176.0,18.6ZM176.2,18.9 176.2,18.5 176.5,18.8 176.2,18.9ZM176.5,19.1 176.5,18.8 176.7,19.0 176.5,19.1ZM176.8,19.5 176.8,19.1 176.9,19.2 176.8,19.5ZM133.5,198.0 132.5,198.2 131.2,197.8 130.7,197.5 130.4,196.5 130.0,194.0 131.2,190.5 131.0,189.0 130.8,187.8 129.7,186.8 129.3,185.8 128.9,180.0 127.8,176.4 127.0,175.9 125.8,175.6 123.8,175.9 122.6,176.5 123.9,178.0 124.8,180.0 121.8,182.4 120.2,183.3 118.2,182.9 117.0,182.4 116.2,181.5 115.7,180.0 114.8,179.2 109.2,180.9 107.7,180.0 105.8,178.4 103.5,177.3 102.5,176.5 102.9,173.0 101.0,171.1 99.2,168.0 96.2,166.0 97.2,160.9 98.0,159.0 97.8,158.3 97.2,157.8 96.2,157.3 92.2,156.9 90.8,155.9 90.3,155.2 90.4,154.0 90.7,152.8 91.2,152.0 89.0,150.5 87.8,148.5 85.8,146.8 84.6,144.8 83.8,143.8 82.5,142.9 80.8,142.1 80.1,141.5 80.1,141.2 81.0,140.3 86.3,138.2 86.6,137.8 84.7,136.5 83.2,134.2 82.6,133.8 78.5,131.8 77.1,130.8 76.3,127.2 77.0,125.5 78.5,124.0 78.4,123.8 76.7,123.0 75.5,122.0 72.2,116.8 71.8,113.2 69.2,112.0 68.3,111.0 67.7,109.8 68.1,107.2 68.5,106.7 69.5,106.2 69.5,102.8 68.0,98.7 67.4,97.8 66.5,97.1 63.5,96.0 62.0,94.0 61.0,92.2 60.8,88.8 59.9,85.2 58.2,82.8 56.8,81.8 56.6,78.2 55.0,74.8 51.2,71.2 49.8,67.5 48.7,65.5 47.6,64.2 46.6,63.5 44.8,61.2 43.2,58.0 41.2,56.5 40.1,55.0 40.8,52.8 41.2,49.7 44.0,46.8 46.0,42.8 47.0,41.4 49.0,44.4 51.4,46.8 52.8,49.2 57.0,50.8 59.2,53.0 63.0,54.8 66.0,57.1 71.2,58.6 72.8,59.2 74.5,60.9 76.9,62.5 78.5,64.4 79.8,65.2 81.0,65.1 81.8,64.7 82.5,64.0 83.6,62.0 84.8,61.2 85.7,61.5 87.0,62.9 88.5,61.9 91.2,62.2 94.0,63.8 97.9,67.2 100.2,72.4 101.2,73.8 102.4,74.8 102.1,78.5 103.5,79.5 106.5,82.7 108.2,84.2 109.0,85.2 108.4,88.2 108.9,89.5 112.5,94.6 117.4,99.2 118.0,101.5 118.7,102.8 122.6,104.2 124.1,105.2 126.0,107.3 127.8,107.7 128.1,108.5 128.3,109.8 131.8,111.2 135.5,111.6 136.5,112.3 136.8,113.2 135.3,115.8 133.9,120.2 131.8,123.1 131.3,125.8 131.5,127.5 134.0,129.2 135.0,131.0 135.7,134.5 135.8,138.0 137.1,142.0 139.0,144.8 139.4,146.5 139.4,148.5 138.0,150.5 137.5,152.0 138.1,159.0 137.5,160.0 135.9,161.2 135.1,162.5 134.4,169.5 133.7,173.0 134.2,174.5 134.6,176.5 133.8,178.0 133.1,180.0 134.3,183.5 133.2,187.0 133.6,190.5 134.7,194.0 134.7,196.5 134.5,197.5 133.5,198.0ZM92.5,72.8 94.0,72.2 95.2,71.2 96.4,68.0 94.0,64.8 90.8,63.3 89.8,63.8 90.2,66.4 90.7,67.8 89.5,71.2 90.8,72.4 91.8,72.8 92.5,72.8ZM103.6,88.0 104.0,87.7 104.3,86.8 103.8,86.5 103.3,86.8 103.0,87.8 103.6,88.0ZM131.8,107.1 129.5,106.8 128.9,106.2 131.8,105.6 132.8,106.2 131.8,107.1ZM216.0,193.5 214.5,187.0 215.2,183.5 214.6,180.0 214.9,173.0 216.0,168.8 216.0,193.5ZM109.6,173.5 110.8,173.0 109.0,172.7 105.8,173.0 108.2,173.6 109.6,173.5ZM126.2,187.6 120.5,187.6 120.0,187.0 120.2,185.8 120.5,185.4 120.9,186.0 121.8,186.3 126.0,186.4 127.7,187.0 126.2,187.6ZM120.8,194.0 120.0,194.0 120.5,193.5 120.8,194.0Z"/>
<path fill-rule="evenodd" fill="#c00000" d="M81.2,8.3 80.8,8.5 79.4,8.0 82.0,8.0 81.2,8.3ZM216.0,152.8 214.7,148.5 214.4,145.0 213.3,141.5 213.8,137.8 212.6,123.8 213.2,116.8 214.5,113.2 214.7,109.8 213.9,106.2 214.0,102.8 213.6,99.2 214.4,95.8 213.7,85.2 214.7,78.2 215.4,74.8 215.7,71.2 215.9,67.8 215.7,60.8 215.9,57.2 214.5,50.0 213.1,46.5 212.9,43.0 211.8,39.5 211.6,36.0 208.1,31.0 206.5,29.2 205.2,28.4 200.6,27.0 196.5,26.2 193.8,25.9 187.3,25.5 193.2,24.7 194.3,24.2 194.8,23.5 194.3,23.0 192.6,22.0 192.1,21.2 191.2,20.5 188.2,19.3 187.2,18.5 185.2,14.6 182.5,12.2 180.2,9.5 177.9,8.0 216.0,8.0 216.0,152.8ZM131.8,181.0 131.6,180.8 131.7,180.0 131.0,176.5 131.3,173.0 130.0,166.0 129.9,158.5 129.1,156.5 128.4,155.5 127.7,153.5 125.8,152.8 124.0,152.7 120.2,153.0 114.8,154.8 111.0,154.0 109.4,153.2 107.5,151.6 102.8,150.1 101.0,149.3 97.0,146.2 94.2,143.7 90.7,141.2 90.6,136.2 90.2,134.5 89.0,133.4 86.5,132.4 84.4,130.8 86.5,129.7 88.5,129.1 89.5,128.5 90.2,127.6 91.0,126.0 92.2,124.9 92.7,123.8 92.0,123.4 86.5,122.9 83.3,120.2 85.2,116.8 88.2,114.8 89.2,113.2 86.5,112.0 82.8,111.6 80.8,111.1 79.6,109.8 80.1,107.8 81.0,106.2 79.2,105.7 75.2,105.2 73.6,103.0 73.9,99.2 75.3,95.8 69.0,92.2 68.5,91.0 68.1,88.8 65.7,85.2 66.1,83.8 66.8,83.0 67.8,82.6 69.5,82.3 70.4,81.8 70.3,81.5 69.5,80.4 64.0,81.1 62.1,78.2 62.8,76.8 63.8,75.8 67.8,74.9 68.2,74.8 68.2,74.3 67.5,74.1 64.0,74.1 58.2,73.5 55.4,71.2 54.7,66.5 53.2,62.5 51.5,61.7 47.0,61.5 46.4,60.8 46.1,58.5 45.5,57.2 44.0,56.2 41.1,55.0 42.1,53.8 43.9,52.0 47.0,47.8 49.0,50.5 50.8,52.0 52.5,52.8 55.8,53.8 59.0,55.3 64.2,58.3 70.2,60.4 72.6,62.2 75.5,64.0 77.0,65.9 79.8,68.0 82.8,66.4 83.7,65.5 84.0,64.8 84.3,65.8 83.4,71.5 83.4,74.8 83.2,75.8 82.8,76.6 82.0,77.1 80.8,77.3 78.8,78.2 80.3,81.8 81.0,82.2 83.0,81.8 86.5,78.4 89.3,81.8 91.1,85.2 92.2,85.9 96.0,89.4 97.8,92.8 98.8,94.0 100.5,95.6 102.0,96.2 103.5,96.4 104.8,95.5 106.3,93.0 106.6,92.0 107.3,90.8 107.5,89.8 110.7,95.8 110.9,96.8 112.2,99.0 113.3,102.8 114.5,103.9 117.7,106.2 117.9,107.8 117.7,109.8 118.5,111.2 119.3,111.8 120.5,112.1 126.0,111.9 129.7,113.2 129.9,113.5 130.5,116.8 128.0,119.0 126.0,120.2 120.5,120.0 120.0,120.2 120.5,120.7 126.0,120.4 127.2,121.2 127.8,122.2 128.4,123.8 127.0,127.2 129.5,128.6 132.9,131.5 133.5,132.6 134.0,134.5 134.2,137.2 134.0,137.9 132.4,136.0 131.3,135.2 130.7,134.5 130.5,133.9 128.8,133.1 126.0,134.7 125.1,136.8 122.8,139.8 122.9,140.0 123.5,140.3 125.8,140.3 127.5,140.8 130.0,142.0 132.5,143.6 135.5,144.3 135.4,143.2 134.6,141.2 134.8,140.5 135.0,140.3 135.7,142.8 136.8,145.0 136.7,145.5 136.2,145.7 133.8,145.6 133.0,145.3 131.2,145.4 130.6,145.8 130.8,146.2 133.1,148.8 133.9,150.5 134.4,152.5 133.9,156.0 132.3,159.8 131.9,166.0 132.2,169.5 131.6,173.0 132.4,176.5 131.8,181.0ZM65.9,64.5 66.0,64.2 64.0,63.3 63.0,64.0 63.2,64.4 64.0,64.7 65.9,64.5ZM85.8,64.4 85.6,64.2 85.8,63.7 86.0,64.2 85.8,64.4ZM84.2,64.9 84.2,64.2 84.4,64.8 84.2,64.9ZM86.0,65.2 85.8,65.0 86.0,64.3 86.2,64.5 86.0,65.2ZM86.2,65.7 86.1,65.2 86.2,65.1 86.4,65.2 86.2,65.7ZM88.2,65.5 88.2,65.1 88.2,65.5ZM69.7,73.8 71.6,72.2 73.3,69.8 73.8,68.2 73.5,66.8 73.2,66.5 69.0,65.7 68.3,66.2 68.8,73.3 69.0,73.7 69.7,73.8ZM86.5,66.3 86.3,65.8 86.5,65.6 86.5,66.3ZM88.0,66.8 88.0,65.7 88.0,66.8ZM86.8,67.0 86.8,66.4 86.8,67.0ZM87.8,68.2 87.8,66.9 87.8,68.2ZM87.0,67.5 87.0,67.2 87.0,67.5ZM87.5,69.1 87.2,69.0 87.1,68.2 87.2,67.7 87.8,68.8 87.5,69.1ZM104.5,83.9 98.2,83.5 97.2,83.6 96.2,83.4 95.7,83.0 95.7,81.8 94.8,78.0 95.4,74.8 96.5,73.3 97.5,70.2 98.7,74.8 98.9,78.2 98.6,81.0 99.5,81.5 103.0,82.6 104.5,83.5 104.7,83.8 104.5,83.9ZM105.0,84.1 104.6,84.0 105.0,83.9 105.0,84.1ZM105.5,84.3 105.2,84.2 105.5,84.3ZM106.0,84.5 105.7,84.5 106.0,84.5ZM106.8,85.5 106.8,85.0 106.8,85.5ZM86.6,92.5 86.9,92.2 86.5,91.8 85.9,92.2 86.6,92.5ZM105.5,111.2 107.5,110.9 108.8,110.3 109.4,109.8 109.8,108.5 109.2,103.2 108.4,101.8 107.8,101.1 107.0,100.8 106.2,100.8 104.5,101.4 103.2,102.0 102.3,102.8 103.0,103.4 106.1,105.2 107.1,106.2 105.5,107.1 102.2,108.1 101.2,108.8 100.6,109.8 101.2,110.5 102.5,111.1 103.5,111.4 105.5,111.2ZM134.2,139.0 134.0,138.8 134.2,137.9 134.2,139.0ZM134.5,139.7 134.2,139.5 134.5,138.9 134.7,139.5 134.5,139.7ZM134.8,140.5 134.4,140.2 134.8,139.6 134.9,140.2 134.8,140.5ZM124.7,150.0 125.2,149.7 125.7,148.5 124.5,147.9 123.0,147.6 121.5,147.6 120.5,147.8 119.8,148.5 120.5,149.1 122.0,149.7 124.7,150.0ZM120.5,163.6 118.0,163.2 116.1,162.0 114.8,161.6 112.8,161.9 111.2,162.7 109.2,163.1 105.7,162.5 105.7,162.2 109.8,160.7 110.2,160.2 110.9,158.0 111.6,157.0 112.8,156.4 114.8,155.9 118.8,157.9 120.4,159.0 121.0,159.8 122.4,162.5 120.5,163.6ZM216.0,180.3 216.0,178.7 216.0,180.3ZM132.0,185.6 131.2,183.5 131.8,181.0 132.0,180.9 132.6,183.5 132.0,185.6ZM216.0,188.4 215.6,187.0 216.0,185.3 216.0,188.4ZM132.5,195.1 132.5,193.9 132.5,195.1Z"/>
<path fill-rule="evenodd" fill="#a60000" d="M216.0,52.5 215.6,50.0 214.4,46.5 214.1,43.0 213.3,39.5 213.0,36.0 210.8,32.2 208.0,29.0 205.2,27.4 199.9,26.2 194.4,25.5 199.5,24.1 200.2,23.2 200.3,22.0 199.5,21.2 196.2,19.9 194.0,18.2 191.2,17.4 189.5,16.5 188.5,15.5 186.7,13.0 181.9,8.0 216.0,8.0 216.0,52.5ZM59.8,57.4 57.8,57.1 55.0,55.4 52.5,56.5 47.0,56.1 44.2,55.0 47.0,53.0 50.0,54.1 55.2,54.9 59.2,56.8 59.9,57.2 59.8,57.4ZM60.2,57.6 59.8,57.5 60.2,57.6ZM66.0,60.3 65.7,60.2 66.0,60.3ZM66.5,60.7 66.1,60.5 66.5,60.4 66.5,60.7ZM67.0,60.9 66.6,60.8 67.0,60.6 67.2,60.8 67.0,60.9ZM67.5,61.2 67.1,61.0 67.5,60.8 67.7,61.0 67.5,61.2ZM68.0,61.4 67.6,61.2 68.0,61.1 68.2,61.2 68.0,61.4ZM68.5,61.7 68.1,61.5 68.5,61.3 68.7,61.5 68.5,61.7ZM69.0,61.9 68.6,61.8 69.0,61.6 69.2,61.8 69.0,61.9ZM69.5,62.2 69.1,62.0 69.5,61.8 69.5,62.2ZM70.0,62.3 69.6,62.2 70.0,62.2 70.0,62.3ZM70.2,62.5 70.5,62.5 70.2,62.5ZM76.8,68.4 76.8,68.0 76.8,68.4ZM77.0,68.6 77.0,68.4 77.0,68.6ZM77.2,69.2 77.1,69.0 77.2,68.6 77.4,69.0 77.2,69.2ZM80.2,74.3 79.8,74.4 79.2,74.0 78.7,72.5 77.5,70.2 77.2,69.5 77.5,69.0 80.0,72.6 80.8,71.8 81.0,72.0 80.5,74.0 80.2,74.3ZM81.8,70.3 81.8,70.0 81.8,70.3ZM81.5,70.8 81.5,70.4 81.5,70.8ZM81.2,71.4 81.2,70.9 81.2,71.4ZM81.0,72.0 80.8,71.8 81.0,71.4 81.2,71.8 81.0,72.0ZM216.0,108.2 215.6,106.2 215.5,102.8 214.9,99.2 215.9,95.8 215.2,85.2 216.0,81.9 216.0,108.2ZM109.0,98.0 108.5,97.6 108.1,96.5 108.0,95.0 108.2,94.3 108.9,95.8 109.0,97.5 109.2,97.8 109.0,98.0ZM109.2,98.1 109.1,98.0 109.2,97.8 109.2,98.1ZM109.5,98.4 109.5,98.1 109.5,98.4ZM110.0,99.0 110.0,98.7 110.0,99.0ZM110.2,139.0 109.0,139.0 108.2,138.0 108.2,137.8 109.2,136.9 111.0,136.7 112.0,136.2 112.3,135.8 112.5,134.5 109.6,127.5 109.2,123.8 108.0,121.8 107.5,120.2 109.8,117.9 110.5,116.8 111.1,113.2 112.0,111.5 112.8,108.2 112.2,106.0 112.2,104.8 112.1,104.5 112.2,103.9 112.4,104.5 114.1,106.2 114.8,107.8 114.6,109.8 113.8,112.8 113.8,114.0 114.1,115.5 114.8,116.8 114.5,120.0 116.0,123.8 117.0,125.0 117.8,125.5 120.5,126.1 120.9,126.5 121.4,127.2 121.5,129.0 121.7,130.0 123.5,132.1 124.2,131.7 124.8,131.7 125.2,131.2 126.5,130.6 127.8,130.2 128.5,130.1 128.7,130.2 127.5,131.6 123.8,134.5 120.5,135.6 118.2,135.8 116.5,136.3 115.7,137.0 114.8,138.4 110.2,139.0ZM92.2,106.6 91.5,106.2 92.2,106.2 92.2,106.6ZM216.0,144.6 215.2,141.2 215.3,137.8 213.9,123.8 214.7,116.8 216.0,113.6 216.0,144.6ZM103.5,131.0 98.8,130.8 100.8,130.5 101.9,130.0 102.6,129.0 103.0,127.5 103.5,127.1 104.3,127.5 104.1,130.8 103.5,131.0ZM128.8,130.1 128.8,129.9 128.8,130.1ZM129.2,130.3 128.9,130.2 129.2,130.3ZM128.2,145.5 127.0,144.0 127.2,143.4 128.4,143.8 128.0,144.2 128.4,145.0 128.2,145.5ZM129.0,144.0 128.3,144.0 128.5,143.9 129.0,144.0ZM128.5,145.7 128.3,145.5 128.5,145.3 128.5,145.7ZM128.8,146.2 128.6,146.0 128.8,145.6 128.8,146.2ZM129.0,146.6 128.8,146.5 129.0,146.1 129.0,146.6ZM129.2,147.2 129.1,147.0 129.2,146.6 129.2,147.2ZM129.5,147.4 129.3,147.2 129.5,147.1 129.5,147.4ZM129.8,148.0 129.6,147.8 129.8,147.4 129.9,147.8 129.8,148.0ZM132.0,156.1 131.8,155.9 131.6,154.8 131.8,154.2 131.8,153.2 132.1,152.8 131.5,152.0 130.0,148.9 129.8,148.2 130.0,147.8 132.0,150.8 132.8,152.5 132.5,154.5 132.0,156.1ZM131.8,156.9 131.6,156.2 131.8,156.0 131.8,156.9Z"/>
<path fill-rule="evenodd" fill="#8d0000" d="M216.0,47.3 214.8,39.5 214.5,36.0 212.5,32.5 211.0,30.3 209.2,28.6 206.1,27.0 202.9,26.2 197.7,25.5 200.5,24.8 202.0,24.0 202.4,23.0 201.9,21.5 199.8,19.5 191.3,15.0 188.7,11.5 185.1,8.0 216.0,8.0 216.0,47.3ZM120.8,133.5 119.5,133.6 117.2,133.2 116.0,133.2 114.6,132.8 112.7,127.2 111.9,123.2 110.6,120.5 111.5,118.2 112.6,123.5 114.3,127.8 115.3,131.8 116.2,132.2 117.5,132.2 118.0,132.5 120.5,132.8 121.2,133.2 120.8,133.5ZM216.0,128.6 215.3,123.8 216.0,118.2 216.0,128.6ZM121.5,133.5 121.1,133.5 121.5,133.5Z"/>
<linearGradient id="lst" x1="0" x2="1" y1="0" y2="0"><stop offset="0" stop-color="#7a6a28"/><stop offset="0.45" stop-color="#5a2a10"/><stop offset="0.8" stop-color="#8a0a00"/><stop offset="1" stop-color="#c00000" stop-opacity="0"/></linearGradient>
<g fill="none" stroke="#000" stroke-width="0.75">
<path d="M216.0,202.1 30.0,202.0 30.0,8.0 216.1,8.0 216.0,202.1Z"/>
<path d="M216.0,202.0 30.0,202.0 30.0,8.0 216.1,8.0 216.0,202.0Z"/>
<path d="M216.0,202.0 30.0,202.0 30.0,8.0 216.1,8.0 216.0,202.0Z"/>
<path d="M216.0,202.0 30.0,202.0 30.0,8.0 216.1,8.0 216.0,202.0Z"/>
<path d="M216.0,202.0 30.0,202.0 30.0,8.0 216.1,8.0 216.0,202.0Z"/>
<path d="M216.0,202.0 30.0,202.0 30.0,8.0 216.1,8.0 216.0,202.0Z"/>
<path d="M216.0,202.0 31.8,202.0 31.9,201.0 30.0,197.7 30.0,8.0 216.1,8.0 216.0,202.0Z"/>
<path d="M216.0,202.0 35.1,202.0 35.0,201.0 33.0,197.5 31.5,194.0 30.8,190.5 30.0,188.5 30.0,8.0 216.1,8.0 216.0,202.0Z"/>
<path d="M216.0,202.0 38.0,202.0 37.9,201.0 36.0,197.5 35.0,194.0 34.0,192.8 33.1,191.0 32.2,187.2 30.0,181.2 30.0,8.0 216.1,8.0 216.0,202.0Z"/>
<path d="M216.0,202.0 41.0,202.0 40.7,201.0 38.2,197.5 37.8,194.0 35.0,190.5 35.1,187.0 31.3,176.5 31.3,173.0 30.0,167.1 30.0,8.0 216.1,8.0 216.0,202.0Z"/>
<path d="M216.0,202.0 43.7,202.0 42.9,200.5 40.4,197.5 40.3,193.8 39.8,192.0 38.9,190.0 38.0,186.0 35.5,180.0 33.7,176.5 34.5,173.0 33.0,169.5 32.4,165.8 30.0,158.0 30.0,8.0 216.1,8.0 216.0,202.0Z"/>
<path d="M216.0,202.0 46.5,202.0 44.9,199.0 43.8,197.5 44.0,194.0 43.2,190.5 41.4,187.0 40.9,183.5 38.7,180.0 36.1,176.5 38.0,173.0 35.6,169.5 35.1,166.0 34.3,162.5 33.8,159.0 32.3,155.5 32.1,151.8 30.8,145.0 30.0,143.3 30.0,8.0 216.1,8.0 216.0,202.0Z"/>
<path d="M216.0,202.0 50.1,202.0 49.4,201.0 48.0,197.5 47.7,193.5 46.6,190.5 44.5,187.0 43.7,183.5 41.5,179.5 39.0,176.5 41.6,173.0 39.2,170.5 38.4,169.2 37.1,162.5 37.0,159.0 35.4,155.2 34.8,152.0 34.7,148.2 33.8,144.8 32.4,141.2 32.2,138.0 31.6,136.0 30.8,131.0 30.9,127.5 30.0,125.6 30.0,41.7 30.4,39.5 30.3,36.0 30.7,32.5 30.7,29.0 30.0,25.5 30.0,8.0 216.1,8.0 216.0,202.0ZM120.8,30.0 122.2,29.0 120.5,27.9 118.9,29.0 120.2,30.1 120.8,30.0ZM194.0,53.8 194.0,53.4 193.5,53.5 193.6,53.8 194.0,53.8Z"/>
<path d="M216.0,202.0 54.2,202.0 51.4,195.0 50.1,190.5 48.7,189.0 47.5,187.1 46.4,183.5 44.2,180.0 43.6,177.8 42.7,176.5 43.5,175.2 44.0,173.0 43.0,171.2 41.2,169.2 40.0,162.5 39.8,158.8 37.5,152.0 37.4,148.2 35.8,141.5 36.1,138.0 34.5,136.0 33.6,134.5 33.6,127.5 31.6,123.8 31.7,120.2 30.1,113.2 30.0,49.5 30.6,46.5 30.6,43.2 31.1,39.8 31.1,36.0 31.5,32.5 30.6,18.5 31.1,15.0 30.0,10.2 30.0,8.0 216.1,8.0 216.0,202.0ZM120.8,38.2 123.2,37.6 124.8,36.7 126.9,34.8 127.7,32.5 128.6,31.0 129.8,30.0 131.6,29.0 129.6,27.2 127.0,25.5 126.2,22.2 126.0,22.2 125.5,23.2 124.8,23.7 120.5,24.0 119.5,24.5 115.0,27.6 113.7,29.0 114.0,32.5 114.8,33.8 117.0,34.8 120.2,38.1 120.8,38.2ZM194.3,55.5 195.5,54.4 196.1,53.5 195.2,51.5 194.1,50.0 193.8,49.9 190.3,50.2 188.2,51.4 187.3,53.5 188.2,54.7 191.2,55.5 193.8,55.7 194.3,55.5Z"/>
<path d="M216.0,202.0 58.8,202.0 56.4,198.2 54.4,194.2 53.6,190.5 51.5,188.8 49.9,187.0 49.0,183.1 48.2,181.9 46.5,180.0 47.8,176.5 46.4,173.0 45.6,169.8 44.2,167.8 43.3,166.0 42.8,162.5 42.9,159.0 41.8,155.2 40.2,151.8 39.5,145.0 38.7,141.2 38.5,138.0 37.6,136.2 35.9,134.2 36.5,130.8 36.3,127.5 33.9,123.8 33.0,113.2 32.9,109.8 32.0,106.2 30.8,99.2 31.3,88.8 30.3,85.2 30.7,81.8 30.0,79.9 30.0,73.4 30.4,71.2 30.0,70.3 30.0,60.1 30.8,55.8 30.9,53.5 30.7,50.2 31.5,46.5 32.3,32.5 31.4,18.5 32.0,15.0 30.9,8.0 216.0,8.0 216.0,202.0ZM121.2,42.2 126.0,41.6 131.8,41.6 137.2,40.9 143.0,40.8 146.0,39.9 147.8,39.0 150.0,38.5 150.6,37.8 150.9,36.0 150.0,34.2 148.8,32.8 146.2,34.3 145.2,35.5 144.3,37.0 143.6,37.5 142.8,37.6 140.5,36.6 139.9,36.0 140.0,32.5 138.8,31.2 137.2,30.2 136.4,29.0 136.2,25.5 136.6,24.5 137.2,23.2 139.0,22.6 139.4,22.2 139.3,22.0 137.5,21.6 134.9,20.5 131.8,19.5 126.0,18.9 121.5,20.7 116.9,22.0 115.0,23.0 109.8,29.0 111.0,30.9 112.7,34.8 114.8,38.1 116.5,39.8 120.2,42.3 121.2,42.2ZM143.2,26.2 143.7,25.5 143.0,23.6 141.5,24.0 141.0,24.7 140.8,25.5 142.0,26.1 143.2,26.2ZM148.8,32.0 149.5,29.2 149.2,28.8 148.5,28.5 147.2,28.9 147.0,29.2 148.0,31.2 148.8,32.0ZM154.7,43.2 154.9,43.0 154.6,39.5 154.2,39.3 152.7,39.5 152.6,39.8 153.5,41.2 153.8,43.0 154.2,43.4 154.7,43.2ZM189.7,59.8 194.0,59.0 195.2,57.2 197.1,55.8 198.0,54.0 198.0,53.0 197.3,50.2 194.0,47.9 188.2,48.3 185.0,49.2 183.0,50.2 182.4,53.5 182.8,54.2 185.1,57.0 188.2,59.9 189.7,59.8Z"/>
<path d="M216.0,202.0 202.0,202.0 201.5,200.5 200.4,199.0 199.5,198.2 197.9,197.5 199.5,196.0 200.3,194.0 197.7,192.0 195.7,188.2 194.8,187.5 193.8,187.2 188.2,187.3 186.6,188.8 185.7,190.5 184.9,193.2 182.8,195.7 182.0,197.5 182.4,199.2 183.2,201.0 182.2,202.0 62.5,202.0 62.3,201.0 60.5,199.2 59.3,197.5 57.7,194.0 56.9,190.5 55.2,188.8 52.4,187.0 51.9,183.5 51.8,180.0 51.0,179.1 50.4,177.8 49.1,173.0 48.6,169.5 46.2,165.8 45.6,162.5 46.3,159.0 44.4,155.5 44.6,152.0 43.4,150.5 42.6,148.5 40.9,137.8 39.7,134.2 39.7,130.8 39.1,127.5 36.4,123.8 35.8,120.2 36.0,109.8 34.6,106.2 33.2,99.2 33.4,95.8 33.0,92.2 33.2,88.8 32.4,85.0 32.0,81.8 30.8,78.2 31.6,71.2 30.1,67.8 30.9,64.2 30.9,60.8 31.6,57.0 31.8,53.8 31.6,50.2 32.4,46.5 33.1,32.8 32.3,18.5 32.9,15.0 32.4,11.5 32.5,8.0 216.0,8.0 216.0,202.0ZM143.4,50.0 150.5,48.3 156.0,47.5 160.0,45.0 165.8,45.7 167.5,45.2 168.5,44.7 169.2,43.8 169.6,43.0 168.8,42.0 167.8,41.2 165.5,40.5 160.0,41.0 158.8,39.5 159.9,38.2 162.0,37.5 163.1,36.8 164.4,34.5 165.8,33.0 165.9,32.5 165.5,32.2 163.5,31.6 157.0,30.3 154.5,29.6 153.6,27.5 153.0,26.7 151.8,26.0 150.0,25.5 149.4,22.0 143.0,19.0 137.2,17.3 131.8,16.9 126.0,16.8 123.0,17.6 120.5,18.6 114.5,20.1 113.0,20.7 112.0,21.5 108.2,26.0 106.7,29.0 107.8,30.7 109.3,32.5 111.4,39.5 113.5,41.1 117.3,44.8 118.5,45.4 120.2,45.9 124.2,46.4 130.0,47.7 135.8,48.3 140.8,49.7 143.4,50.0ZM194.2,65.5 197.0,62.9 199.5,58.5 199.9,57.0 200.0,53.5 199.9,50.2 199.2,49.2 196.8,47.4 193.8,45.9 188.2,45.9 182.5,46.9 177.0,47.1 175.8,47.7 174.8,48.5 173.9,50.0 174.1,50.2 177.1,51.5 178.2,52.5 178.9,53.5 178.8,55.3 178.2,57.0 178.3,57.2 182.8,59.1 184.5,60.5 186.2,62.4 188.2,63.7 191.2,64.2 193.8,65.7 194.2,65.5ZM166.2,50.2 166.4,50.0 165.8,49.5 164.5,50.0 165.5,50.4 166.2,50.2Z"/>
<path d="M216.0,202.0 205.4,202.0 205.0,201.0 204.9,197.5 204.3,194.0 200.2,190.5 200.8,187.0 200.3,183.5 199.5,179.7 198.2,178.4 197.5,176.5 194.0,174.1 189.3,176.5 190.7,180.0 183.7,183.5 182.8,184.6 181.9,187.0 181.8,190.5 180.7,194.0 178.2,199.0 176.7,201.0 176.9,202.0 66.5,202.0 66.6,201.0 64.0,199.4 62.8,198.2 62.2,197.5 62.7,194.0 60.7,190.5 58.3,187.0 58.1,183.5 56.5,182.2 54.7,179.0 52.4,176.5 50.9,168.5 49.3,162.5 49.2,159.0 47.0,155.5 48.1,152.0 47.1,150.2 45.4,148.5 44.9,147.0 44.3,145.0 44.1,141.2 42.7,134.5 42.7,130.8 41.8,127.2 39.2,123.8 39.2,116.8 38.2,113.5 38.2,109.8 37.0,106.2 35.7,99.2 35.8,95.8 34.8,92.2 35.2,88.2 34.6,85.2 33.6,83.0 32.4,78.2 32.9,74.8 32.8,71.2 31.8,67.8 31.9,60.8 32.5,57.2 32.7,53.8 32.4,50.2 33.3,46.5 33.5,39.5 34.0,32.8 33.7,25.5 33.1,18.5 33.8,15.0 33.5,11.5 34.2,8.0 216.0,8.0 216.0,202.0ZM196.9,72.2 199.5,72.1 200.2,71.2 201.0,60.8 201.7,57.2 201.8,53.8 201.3,50.2 199.5,46.6 194.0,43.8 190.8,43.1 188.2,42.1 182.8,42.8 177.0,44.2 175.5,43.6 174.8,43.0 174.8,39.5 175.7,38.5 177.5,37.2 178.3,36.0 177.0,35.1 175.0,34.5 173.6,33.8 168.6,29.0 166.2,27.3 159.0,24.0 156.2,22.0 152.0,20.4 147.7,18.0 145.8,17.4 137.2,15.6 131.8,15.3 126.0,15.4 120.5,16.2 114.8,17.6 109.0,18.0 108.2,18.5 107.1,22.0 104.2,25.5 103.8,29.0 105.0,32.5 105.2,36.0 106.2,37.5 107.2,39.6 110.4,41.5 112.2,43.0 112.6,46.5 114.8,48.7 116.8,49.4 120.5,51.3 123.8,52.4 126.0,53.6 131.8,52.6 134.5,53.8 137.5,54.4 148.8,54.0 154.2,54.5 156.2,53.9 160.0,53.7 165.8,55.9 171.2,55.0 172.0,56.0 172.3,57.2 171.9,58.5 170.9,59.5 170.4,60.5 171.2,61.6 177.0,61.7 180.8,64.8 181.4,65.8 182.1,67.8 185.2,68.3 186.5,68.9 187.1,69.8 187.5,71.2 188.2,71.9 193.8,72.5 196.9,72.2Z"/>
<path d="M216.0,202.0 207.4,202.0 206.9,200.8 205.8,193.5 205.2,191.9 203.6,190.5 202.4,180.0 200.5,174.9 199.1,172.8 198.1,169.5 197.8,167.4 196.9,166.8 193.5,166.5 191.7,166.0 190.8,161.5 190.0,161.2 188.2,161.2 187.7,162.5 187.5,166.0 187.9,167.8 188.9,169.5 188.3,173.0 182.8,175.5 181.5,176.5 184.0,180.0 181.2,181.6 179.8,183.5 179.0,187.5 177.5,190.5 178.3,194.0 177.0,196.0 175.1,197.8 174.4,199.5 173.8,202.0 70.5,202.0 70.6,201.0 70.2,200.5 65.7,197.5 68.1,194.0 65.6,191.5 62.1,187.0 61.4,183.5 60.1,181.5 58.6,180.0 57.4,176.8 56.0,174.8 55.0,173.0 54.0,169.5 53.6,162.5 50.3,155.5 50.1,152.0 49.8,151.0 46.6,145.0 46.6,141.2 45.0,134.5 45.5,130.8 44.5,127.2 42.0,123.8 42.5,120.2 42.1,116.8 40.6,113.2 40.3,109.8 39.5,106.2 37.0,92.2 36.6,85.2 34.7,81.8 34.0,78.2 34.6,74.8 32.8,62.0 33.6,53.8 33.3,50.0 34.2,46.5 34.4,43.0 34.2,39.5 34.8,32.8 34.5,29.0 34.6,25.5 33.9,18.5 34.8,15.0 34.5,11.5 35.8,8.0 216.0,8.0 216.0,202.0ZM188.4,91.5 189.6,90.0 191.2,87.4 192.2,86.6 194.0,85.9 194.6,85.2 194.0,84.4 192.3,83.2 191.4,81.8 192.2,81.0 193.3,80.5 199.5,78.9 199.8,78.0 199.7,74.8 202.8,71.0 203.3,67.8 202.9,64.2 202.9,60.8 203.6,57.2 203.5,53.8 202.7,50.0 201.0,46.5 199.5,44.5 195.5,42.3 191.2,40.7 188.2,38.6 184.5,38.4 182.8,37.9 182.0,36.0 176.9,32.5 172.5,28.1 171.2,26.3 170.5,25.8 164.0,23.4 159.3,20.5 154.2,19.2 153.3,18.8 152.8,18.5 151.2,16.6 148.8,15.4 143.0,15.5 137.5,14.6 126.0,14.3 120.5,14.8 109.2,16.4 107.5,17.1 105.8,18.1 103.5,20.9 98.0,24.6 97.1,25.5 96.5,27.6 95.7,29.0 97.8,31.0 99.0,32.8 101.2,38.0 102.0,38.9 103.5,39.8 105.3,41.5 107.0,42.4 109.1,43.0 109.3,43.2 109.3,46.8 112.9,50.2 120.5,54.4 126.0,55.8 140.0,57.2 141.8,58.2 143.2,60.0 144.5,60.5 151.2,61.4 154.5,62.5 160.0,60.9 162.0,61.5 165.8,62.1 167.9,64.0 168.9,65.8 170.0,66.9 171.2,67.7 173.1,68.2 174.0,68.9 174.6,69.8 175.2,71.5 176.0,72.5 177.0,73.2 178.8,73.8 179.6,74.5 179.8,78.2 180.5,79.6 180.9,81.5 181.0,85.2 182.5,86.2 185.0,87.3 186.0,88.5 186.9,90.8 187.8,91.5 188.2,91.7 188.4,91.5ZM188.6,100.5 190.4,99.2 189.7,97.8 188.2,96.8 187.5,97.7 187.1,99.2 188.2,100.7 188.6,100.5ZM188.6,114.5 190.9,114.0 192.1,113.2 190.5,112.5 188.2,112.1 185.8,113.2 187.5,114.2 188.6,114.5ZM193.8,125.0 194.0,124.9 194.2,124.0 194.0,123.4 193.8,123.4 193.2,124.0 193.8,125.0ZM194.4,138.8 196.8,138.1 197.0,137.8 194.0,136.5 193.0,137.0 192.3,137.8 193.2,138.6 194.4,138.8ZM194.1,146.0 194.9,145.0 194.8,144.8 194.0,144.3 192.7,144.8 192.6,145.0 193.2,145.8 193.8,146.2 194.1,146.0ZM199.6,166.0 200.8,164.5 201.7,162.5 199.5,161.2 195.8,161.1 195.6,160.2 195.6,157.5 195.9,156.5 196.8,156.2 199.5,156.1 199.9,155.5 199.5,154.4 196.2,155.0 195.0,155.8 193.8,156.0 192.5,156.8 190.9,158.8 191.0,161.0 195.5,161.2 195.7,162.8 196.5,164.5 197.8,165.5 199.6,166.0Z"/>
<path d="M216.0,202.0 209.4,202.0 208.4,200.0 206.8,193.0 205.9,190.5 205.5,187.0 205.2,180.0 203.5,176.5 203.0,173.0 204.0,169.5 205.2,168.4 206.3,166.0 206.4,162.5 205.4,158.8 203.7,156.8 202.1,152.0 199.8,149.8 197.8,148.5 198.1,148.0 199.8,146.6 200.9,145.0 200.6,141.5 201.0,137.8 200.4,131.0 200.6,127.2 199.9,125.0 199.3,123.8 199.8,122.5 200.2,120.2 199.5,118.9 198.2,118.0 197.4,116.8 196.7,113.2 197.7,106.2 196.2,102.8 197.8,95.8 196.9,93.8 195.8,92.2 197.2,90.5 199.5,89.2 199.8,88.8 198.7,85.2 199.8,83.5 201.8,78.2 201.9,74.8 205.2,70.9 205.6,67.8 204.9,64.0 204.9,60.8 205.4,57.2 205.2,53.8 204.1,50.0 202.4,46.0 200.4,43.0 199.5,40.4 197.8,40.0 193.9,39.8 193.5,39.5 192.6,37.2 191.6,36.2 186.8,35.2 182.5,33.9 180.5,32.5 177.6,29.0 175.0,27.2 171.2,23.6 165.8,21.6 160.0,17.6 152.5,15.0 148.8,14.4 143.0,14.5 132.5,13.7 126.2,13.6 119.2,14.0 109.0,15.2 105.8,16.1 102.8,17.7 99.3,18.5 98.0,19.0 96.1,20.8 93.8,22.2 92.2,25.8 87.3,29.0 88.6,34.2 89.1,35.2 89.8,36.0 92.0,36.5 93.2,37.2 94.0,38.2 94.8,39.8 96.1,41.0 103.2,45.0 106.2,48.0 110.5,51.4 116.8,55.1 119.0,56.0 123.4,57.2 126.2,58.6 137.2,60.7 136.3,63.0 136.1,64.0 136.4,64.2 137.5,64.5 148.8,64.3 153.2,67.8 154.2,68.3 161.2,69.7 167.8,71.8 168.2,72.3 168.7,73.2 169.7,78.2 171.2,79.8 175.0,81.8 175.3,85.2 177.0,87.0 179.6,88.8 178.6,92.2 179.8,95.9 181.4,99.2 181.8,102.8 183.6,104.5 184.6,106.2 183.8,109.0 181.9,110.8 180.1,113.2 181.2,115.6 183.9,118.8 184.8,120.2 184.0,121.2 182.0,122.7 181.1,124.0 181.3,127.5 182.5,129.4 184.4,130.8 184.4,131.0 182.5,132.9 181.5,134.2 181.0,137.8 181.6,142.0 182.2,143.8 183.2,145.5 183.9,148.5 182.6,151.8 181.2,153.6 180.4,155.5 180.7,159.8 181.7,162.5 181.7,165.8 179.6,168.0 178.6,169.5 179.8,171.2 180.7,173.0 176.7,176.5 176.3,180.0 176.1,187.0 174.5,190.5 175.1,194.0 170.9,197.5 171.4,201.0 170.8,202.0 74.0,202.0 72.6,199.2 71.8,198.4 70.3,197.5 71.5,196.0 72.4,194.0 69.2,190.5 65.8,185.8 63.6,180.0 61.4,176.5 61.3,174.2 61.0,173.2 59.0,172.6 58.2,172.1 57.4,169.2 57.2,166.0 57.5,162.5 54.9,159.0 54.5,155.5 52.8,153.6 52.1,152.0 50.8,145.0 49.8,142.3 48.7,137.0 47.8,134.5 48.4,130.8 47.1,127.2 45.0,123.8 45.5,120.2 43.1,113.2 42.9,109.8 42.0,106.2 40.9,99.2 39.6,95.8 39.6,92.2 38.5,88.8 38.4,85.2 37.7,83.2 36.5,81.5 35.8,79.0 35.6,78.2 36.2,74.8 35.1,71.2 35.2,67.8 34.0,64.2 33.6,62.0 34.3,57.5 34.5,54.2 34.1,50.0 35.1,46.5 35.3,43.2 35.0,39.5 35.5,36.0 35.6,32.8 35.2,29.0 35.5,25.5 34.8,18.5 35.7,15.0 35.6,11.5 36.9,8.0 216.0,8.0 216.0,202.0ZM126.8,11.8 129.2,11.2 129.8,11.0 130.2,10.5 129.1,9.8 126.0,8.9 123.0,9.8 121.6,10.5 121.9,11.0 122.5,11.2 125.4,11.8 126.8,11.8Z"/>
<path d="M167.5,202.0 82.1,202.0 81.8,201.0 81.0,200.1 78.5,199.1 77.0,197.8 76.5,194.0 72.2,189.0 70.2,185.8 68.4,183.5 68.0,180.0 65.7,176.5 66.7,173.0 64.8,171.5 61.3,169.5 60.6,162.5 59.6,160.8 58.0,159.0 59.3,155.5 58.9,154.0 56.2,147.6 55.5,145.0 52.4,141.5 52.6,138.0 53.2,134.2 51.5,130.8 49.6,127.5 48.4,123.8 48.3,120.2 46.4,116.8 45.8,113.2 45.7,109.8 43.8,102.8 43.7,99.2 41.6,95.8 42.0,92.2 40.1,88.8 40.5,81.8 39.2,80.2 38.1,78.2 37.9,74.8 36.6,71.2 37.0,67.8 35.0,64.2 34.4,62.5 35.3,54.8 35.0,50.0 36.1,45.8 36.3,43.0 35.8,39.5 36.5,36.0 36.7,32.8 36.3,29.0 36.6,25.5 35.6,18.5 36.7,15.0 37.1,11.5 38.0,8.0 112.0,8.0 110.5,9.0 110.1,9.5 110.1,10.0 111.2,10.8 113.1,11.2 120.5,12.6 126.0,12.9 133.2,12.8 133.2,13.0 133.0,13.2 120.5,13.3 109.0,14.2 103.9,15.2 96.0,17.6 93.8,18.5 91.5,19.8 85.8,22.0 85.5,25.5 84.0,27.3 81.9,29.0 83.2,30.8 84.1,32.5 83.9,36.2 85.9,38.2 89.0,40.0 90.1,41.2 90.9,43.0 92.0,43.9 96.2,45.3 98.5,46.2 102.2,49.2 114.5,57.3 120.5,59.0 124.5,61.1 128.0,62.6 130.1,64.2 131.8,65.1 145.0,68.2 146.7,69.2 148.0,71.2 148.5,71.6 154.0,72.4 155.0,73.2 156.3,74.8 157.5,75.4 164.2,77.4 165.8,78.6 167.0,80.4 169.5,83.1 171.1,85.5 174.0,88.8 174.0,92.2 175.9,95.8 177.4,99.2 177.0,100.4 175.5,102.8 175.2,106.2 176.2,108.2 177.3,109.8 176.1,113.2 176.5,120.2 175.8,123.8 178.0,127.5 178.2,130.8 176.8,134.2 177.7,136.0 178.3,137.8 178.1,141.5 177.2,145.0 178.2,148.5 176.1,159.0 174.2,162.5 173.7,166.0 171.5,169.5 175.2,173.0 173.6,174.5 172.5,176.5 171.2,183.5 172.0,187.0 171.4,192.0 170.6,194.0 168.8,195.2 167.8,197.0 167.6,197.8 168.2,201.0 167.5,202.0ZM216.0,202.0 211.2,202.0 209.6,199.0 208.2,194.8 207.3,190.5 206.9,187.0 206.5,180.0 205.7,176.2 205.8,173.0 206.5,169.5 208.2,166.0 208.7,162.5 207.5,159.0 205.9,155.5 205.2,151.6 202.1,148.5 204.0,145.0 202.6,141.2 202.8,138.0 202.4,134.2 202.8,130.8 202.2,124.0 202.3,120.2 200.6,116.8 199.8,113.2 200.6,109.8 200.8,106.5 200.7,102.8 201.5,95.8 201.1,92.2 202.4,88.8 201.5,85.2 203.8,78.2 204.0,74.8 205.2,73.4 206.4,71.2 206.9,67.8 206.6,64.0 206.7,57.2 206.5,53.8 205.5,50.0 202.8,43.0 202.7,39.8 201.0,38.1 199.5,35.9 188.2,33.7 184.0,32.0 182.5,31.1 180.3,29.0 177.5,27.1 171.2,21.3 161.3,16.0 156.5,14.8 148.8,13.7 143.0,13.7 133.1,13.2 133.2,13.0 148.8,12.4 150.5,11.8 151.1,11.2 151.0,10.7 150.2,10.0 145.1,8.0 216.0,8.0 216.0,202.0Z"/>
<path d="M164.2,202.0 85.9,202.0 85.2,201.0 84.4,198.5 82.2,196.2 81.0,194.0 76.8,189.3 75.2,188.1 74.3,187.0 74.8,185.5 75.8,183.5 75.7,180.0 72.8,178.8 71.3,177.5 70.5,176.5 69.9,173.0 67.8,171.0 65.5,169.5 65.5,166.0 63.8,163.8 62.4,158.2 62.0,155.5 62.2,152.0 60.4,148.5 59.7,144.8 56.5,141.2 56.3,138.0 56.4,134.5 55.7,132.5 54.9,130.8 52.5,128.2 51.9,127.2 52.6,123.8 51.5,121.8 49.7,116.8 49.5,113.2 48.5,109.0 47.7,106.5 46.1,102.8 46.4,99.0 43.9,92.0 42.0,88.8 42.6,85.2 42.8,81.8 40.5,78.0 39.6,74.8 38.2,71.2 38.8,67.5 35.2,61.8 35.9,58.5 36.2,55.0 35.8,50.0 37.0,46.5 37.4,43.2 36.9,39.5 37.6,36.0 37.8,32.5 37.7,25.5 36.8,18.5 38.5,11.5 39.1,8.0 105.5,8.0 104.9,9.0 104.8,10.0 105.2,10.8 106.5,11.5 109.2,12.3 117.6,13.0 109.2,13.5 105.1,14.0 97.8,15.8 92.2,16.7 86.5,19.1 84.2,20.7 81.5,22.0 82.0,25.5 81.0,26.4 78.8,27.7 77.7,29.0 78.1,30.2 78.8,31.2 80.9,32.5 80.8,34.7 80.4,36.0 81.9,38.8 83.5,40.4 86.5,42.2 89.0,44.6 97.8,51.6 100.0,52.7 103.5,53.8 105.5,55.8 108.2,57.3 110.4,58.8 112.0,59.5 115.0,60.1 120.5,62.0 125.4,64.2 126.5,65.8 127.8,66.6 133.3,67.8 134.8,68.7 136.2,69.4 143.0,71.2 143.9,72.5 145.0,73.4 146.5,74.1 148.7,74.8 149.2,78.2 154.5,82.9 160.0,84.6 165.5,84.1 166.7,85.2 167.4,87.2 168.3,88.8 168.6,92.2 170.1,95.8 169.2,99.2 170.2,103.3 171.4,106.2 172.6,113.2 172.5,116.8 173.5,120.2 171.8,123.8 171.1,127.2 170.2,129.5 169.8,131.0 171.2,134.5 174.5,138.0 173.7,141.5 171.0,145.0 171.1,148.5 172.4,152.0 171.2,153.5 170.4,155.2 170.6,159.0 169.7,162.5 168.9,164.2 167.5,166.2 167.0,169.5 168.3,173.0 167.2,174.0 165.5,175.1 164.5,176.5 165.2,177.6 166.8,178.9 167.6,180.0 166.6,184.0 165.2,187.0 166.7,189.0 167.4,190.5 163.8,194.0 164.1,197.5 164.9,201.0 164.2,202.0ZM216.0,202.0 212.8,202.0 210.6,198.0 209.0,194.0 208.3,187.0 208.2,183.5 207.4,176.5 207.4,173.0 208.1,169.5 210.0,166.0 210.9,162.5 209.5,159.0 207.5,155.5 206.7,151.8 205.6,148.5 206.0,145.0 204.7,141.2 204.1,134.5 205.2,130.8 204.2,127.2 204.9,123.8 204.4,120.2 202.7,116.8 202.0,113.2 202.8,109.8 203.0,106.2 204.0,102.8 204.8,95.8 204.7,92.2 205.1,88.8 203.9,85.2 205.2,80.5 206.0,74.8 207.7,71.2 208.2,67.8 208.3,60.8 207.8,53.8 207.1,50.2 205.6,46.5 205.2,43.0 205.5,39.5 199.5,34.3 188.2,31.7 183.7,29.2 181.0,28.1 178.0,25.9 171.2,19.1 169.2,17.5 167.7,16.8 164.5,15.5 160.0,14.4 148.8,13.2 154.5,12.3 160.0,11.9 160.6,11.5 160.6,10.5 160.0,9.7 154.1,8.0 216.0,8.0 216.0,202.0Z"/>
<path d="M160.8,202.0 93.7,202.0 93.5,201.0 91.0,199.2 88.3,196.0 82.0,190.5 81.2,187.1 80.3,185.5 79.7,183.5 80.3,180.0 78.2,178.3 74.4,176.5 74.2,172.8 72.8,170.9 70.7,169.5 72.4,166.0 69.2,162.2 65.4,155.5 65.8,152.0 63.1,148.2 63.7,144.8 63.2,142.2 62.9,141.5 61.3,140.0 60.4,138.5 60.1,137.8 59.8,134.2 58.9,131.8 57.8,129.6 56.0,127.2 57.0,123.8 54.6,120.2 53.7,118.2 53.4,116.8 53.6,113.2 51.7,109.8 51.5,106.2 50.2,102.8 49.6,99.2 48.7,95.8 46.4,93.0 44.7,88.8 45.5,85.2 44.6,81.5 41.2,74.7 39.9,71.2 40.7,67.8 38.5,64.2 37.2,61.0 36.4,60.0 37.1,54.2 36.9,50.0 38.1,46.5 38.4,43.2 38.1,39.5 38.6,36.0 39.2,29.0 37.9,18.5 38.9,14.2 40.0,11.5 40.2,8.0 101.3,8.0 100.9,9.0 100.9,10.0 101.8,11.2 104.1,12.2 108.8,13.0 103.5,13.5 97.8,14.8 95.0,15.0 92.0,14.7 85.6,17.8 81.1,20.5 76.7,22.0 73.8,25.1 72.2,27.4 71.2,28.1 69.2,29.0 67.8,32.5 70.7,36.0 71.0,39.5 73.5,40.7 77.5,43.0 86.5,45.9 88.7,48.0 92.2,52.3 95.5,54.5 99.8,56.9 105.4,60.8 109.2,62.7 117.2,64.4 120.5,65.5 123.5,68.7 125.8,70.3 127.4,71.2 129.5,75.0 133.2,76.9 135.1,78.8 136.7,79.8 140.8,80.6 142.3,81.2 146.0,85.3 148.8,86.6 154.2,87.3 156.3,88.2 157.0,88.8 156.8,92.2 160.0,97.0 162.5,97.9 164.1,99.2 165.8,100.2 166.7,102.8 167.1,106.2 165.7,109.8 167.6,113.2 167.0,116.8 167.3,118.8 167.9,120.2 166.7,121.8 165.9,123.8 166.1,130.8 166.7,134.2 166.9,137.8 165.8,139.9 165.3,141.5 167.3,148.2 167.8,152.0 167.4,155.5 166.6,159.0 166.5,162.5 164.6,164.5 163.7,166.0 162.6,169.5 162.3,173.0 161.4,175.5 160.3,182.5 160.2,183.5 160.5,187.0 161.4,190.5 160.4,192.0 159.4,194.0 160.2,197.5 161.2,201.0 160.8,202.0ZM216.0,202.0 214.3,202.0 210.8,195.8 210.0,194.0 209.7,183.5 209.0,176.5 209.1,173.0 209.7,169.5 211.6,166.0 212.2,162.5 211.4,159.0 209.1,155.2 207.1,148.5 207.2,145.0 206.2,141.2 206.2,137.8 205.8,134.5 206.6,130.8 205.8,127.2 206.3,123.8 206.1,120.8 204.8,116.8 204.3,113.2 204.9,109.8 205.1,106.2 206.2,102.8 206.6,95.8 206.4,92.2 206.7,88.8 206.0,85.2 207.7,74.8 208.8,71.8 209.5,67.8 210.0,60.8 209.3,57.2 209.1,53.5 208.5,50.2 206.8,46.5 206.5,39.5 205.2,37.4 199.5,32.7 193.8,30.9 188.2,29.7 186.7,29.0 181.5,27.4 179.1,25.5 177.0,23.1 173.2,19.5 171.2,17.1 169.8,15.8 166.2,14.8 160.9,13.8 154.0,13.2 160.0,12.8 163.2,11.8 163.8,11.0 163.8,10.0 163.2,9.0 161.9,8.0 216.0,8.0 216.0,202.0Z"/>
<path d="M151.8,202.0 102.6,202.0 101.2,201.0 97.8,199.3 95.4,197.5 92.2,194.2 90.6,192.0 88.6,190.5 89.0,187.0 88.2,185.5 87.6,183.5 85.1,182.2 83.9,181.0 83.4,180.0 82.5,176.5 80.8,173.2 77.5,168.5 76.6,165.8 75.0,162.5 73.8,159.0 71.7,157.5 70.1,155.5 67.8,146.5 67.2,141.2 65.9,139.5 64.0,137.8 63.5,134.5 62.9,132.5 62.2,130.8 60.5,127.2 60.7,123.8 59.3,120.2 57.5,118.2 56.5,116.8 56.4,113.2 55.0,109.8 55.5,106.2 55.7,102.8 54.3,101.8 53.4,100.5 51.7,95.8 48.4,92.2 47.7,88.8 48.4,85.2 46.9,82.8 45.1,78.2 44.3,74.8 41.7,71.2 42.5,68.5 42.5,67.5 40.3,64.2 38.9,60.5 37.4,58.5 37.9,54.8 37.9,50.2 39.1,46.5 39.5,43.0 39.2,39.5 40.7,29.0 40.0,26.2 39.3,22.2 39.1,18.5 39.7,15.0 40.5,13.1 41.5,11.5 41.3,8.0 97.6,8.0 97.2,9.8 97.5,10.5 98.0,11.0 100.4,12.2 103.9,13.0 95.0,14.1 94.0,13.9 92.2,13.0 91.0,13.2 87.0,15.5 83.6,17.0 81.0,18.9 70.1,22.0 68.9,23.8 68.1,24.5 64.0,25.9 63.2,27.2 61.1,32.5 63.2,36.0 63.6,39.5 67.4,41.5 72.0,44.5 76.0,45.9 79.2,47.5 83.5,48.7 86.5,49.8 88.4,53.5 90.5,55.2 96.8,58.6 100.8,61.3 104.6,63.0 109.0,65.6 115.2,67.5 117.8,69.7 120.5,70.9 120.8,71.2 119.7,73.2 119.4,74.8 120.5,75.5 122.8,76.2 124.5,77.1 130.4,81.5 132.8,82.3 134.0,82.9 135.0,83.9 135.8,85.2 137.2,86.7 140.7,88.8 141.7,92.2 142.8,93.2 143.2,93.5 148.8,94.4 151.0,95.4 151.5,95.8 151.6,97.5 152.0,98.3 154.2,98.7 157.0,100.9 158.7,102.8 158.4,104.8 157.9,106.2 160.2,108.5 162.3,113.2 161.4,114.2 159.6,115.5 158.5,116.8 159.0,120.2 160.3,123.8 159.5,127.2 159.6,130.8 161.8,132.9 162.7,134.5 161.7,137.0 159.4,141.2 160.4,145.0 159.6,148.2 160.0,149.2 161.0,150.2 162.0,151.8 163.0,155.5 162.6,159.0 161.6,161.0 160.4,162.5 160.6,166.0 160.0,167.2 158.0,169.5 157.3,173.5 156.0,176.5 156.6,180.0 153.3,188.0 153.1,190.5 153.7,192.2 154.6,194.0 154.8,197.5 153.2,198.8 152.2,199.9 151.6,201.0 152.0,202.0 151.8,202.0ZM216.0,202.0 214.8,200.3 211.2,194.0 211.4,190.5 211.1,183.5 210.6,180.0 210.7,173.0 211.3,169.5 212.8,166.0 213.5,162.5 212.9,159.0 210.7,155.2 209.5,152.0 208.6,148.5 208.4,144.8 207.4,141.2 207.8,137.8 207.4,134.2 207.9,130.8 207.2,127.2 207.5,123.8 207.4,120.2 206.6,116.8 206.6,113.2 207.1,109.8 206.9,106.2 207.8,102.8 207.8,99.2 208.2,95.8 207.8,92.2 208.3,88.8 207.6,85.0 207.8,81.8 209.7,73.8 210.8,67.8 211.4,60.8 210.5,57.2 210.5,53.5 209.9,50.2 208.0,46.5 207.5,39.5 206.5,37.4 205.2,35.7 202.8,33.5 199.8,31.2 194.0,29.1 188.2,28.3 182.0,26.9 180.2,25.5 177.2,22.0 173.7,18.8 171.5,15.8 170.5,14.8 161.2,13.2 164.6,12.5 167.1,11.2 167.5,10.8 167.5,10.0 166.4,8.0 216.0,8.0 216.0,202.0ZM148.8,99.8 150.9,99.2 148.8,98.9 148.3,99.2 148.8,99.8Z"/>
<path d="M146.5,202.0 108.0,202.0 107.0,201.0 103.8,196.9 101.2,195.4 99.0,193.6 97.8,192.9 95.6,190.8 94.6,185.8 93.5,183.8 86.3,180.0 86.5,179.1 88.5,176.5 86.5,174.8 85.2,173.0 84.4,169.5 81.0,167.6 79.6,166.0 78.8,162.5 78.4,159.0 77.9,158.0 77.0,157.1 75.2,156.4 74.1,155.5 74.8,151.8 74.7,148.5 73.0,146.8 71.7,145.0 71.5,141.2 70.3,138.0 68.5,136.2 67.3,134.5 65.8,128.5 64.6,125.8 62.9,120.2 62.0,118.4 60.7,116.8 60.0,113.5 59.2,108.8 59.2,106.2 60.0,102.8 56.9,100.8 55.6,99.5 55.4,99.2 55.1,95.8 51.3,92.2 51.9,90.8 53.2,88.8 48.8,81.8 47.8,78.0 47.5,74.8 44.5,71.2 44.5,67.5 41.5,63.0 39.8,59.0 38.4,57.2 38.9,50.2 40.1,46.8 40.3,45.2 40.5,43.0 40.3,39.5 41.2,32.5 41.5,31.8 43.2,30.5 43.9,29.0 41.2,26.7 40.3,22.0 40.2,18.5 40.7,15.0 41.2,13.8 43.2,11.5 43.9,8.0 93.7,8.0 93.0,9.0 91.0,10.8 86.5,13.7 74.4,18.5 67.0,20.6 64.0,22.9 59.0,23.3 58.2,23.4 57.8,23.8 56.6,25.2 56.1,27.0 55.5,28.0 54.5,28.5 52.4,29.0 52.6,29.2 54.5,29.7 55.4,30.2 55.9,31.0 56.5,32.9 58.2,34.6 59.2,36.0 57.9,39.5 58.2,40.2 59.0,41.0 60.2,41.7 64.0,42.6 64.6,43.0 64.8,43.2 64.6,46.5 65.0,46.7 69.5,47.6 71.0,48.2 72.2,49.0 73.8,50.7 75.2,51.6 81.0,51.2 83.2,53.1 85.2,56.0 86.4,57.2 92.8,59.2 95.5,60.8 98.6,63.0 103.5,65.2 105.2,66.5 107.7,67.8 110.8,70.8 113.2,74.8 116.2,76.5 118.5,78.2 118.8,80.5 119.3,81.8 120.5,82.4 124.8,86.0 126.0,86.4 130.0,86.9 131.8,87.5 132.6,88.8 137.2,92.2 138.8,94.2 140.6,95.8 141.0,99.2 144.7,101.5 145.8,102.5 147.3,104.5 150.1,106.2 151.1,108.8 153.9,111.2 155.2,113.2 155.0,117.0 155.4,120.2 156.4,123.8 155.2,127.5 155.4,132.2 156.0,134.2 155.1,137.8 155.8,141.5 154.7,145.0 154.6,148.2 156.9,152.0 157.1,155.5 156.8,158.5 155.9,162.5 155.6,163.2 153.7,165.8 152.8,168.0 151.7,169.5 150.8,171.2 149.0,173.0 149.7,174.2 150.0,176.5 149.2,177.5 147.6,178.8 145.6,181.2 142.2,183.5 144.8,185.5 146.5,187.5 148.8,189.4 149.5,190.5 149.0,192.8 148.4,194.2 147.0,196.0 144.9,197.5 146.5,200.2 146.7,201.0 146.5,202.0ZM216.0,199.9 212.8,194.0 212.7,190.5 212.3,187.0 212.5,183.5 211.9,180.0 212.1,173.0 212.8,169.5 214.1,165.8 214.8,162.5 214.7,161.5 214.4,159.0 212.4,155.5 210.9,152.0 210.1,148.2 209.6,144.8 208.7,141.2 209.4,137.8 208.9,134.2 209.2,130.8 208.6,127.2 208.8,120.2 208.3,116.8 209.1,113.2 209.3,110.0 208.7,106.2 209.4,102.8 209.3,99.2 209.8,95.8 209.2,92.2 209.9,88.8 209.1,85.2 209.1,81.8 211.1,74.8 211.4,71.2 212.1,67.5 212.5,60.8 211.8,57.0 211.3,50.2 209.3,46.5 209.1,43.0 208.5,39.5 207.7,37.2 207.0,36.0 205.2,33.7 202.9,31.8 199.5,29.6 194.0,28.0 188.2,27.3 182.2,26.4 181.2,25.5 178.3,22.2 174.5,18.5 172.2,15.5 170.8,14.0 164.7,13.2 168.7,12.5 171.5,11.4 171.7,10.8 171.5,10.0 169.9,8.0 216.0,8.0 216.0,199.9ZM95.0,13.5 94.2,13.0 94.2,12.2 94.5,11.8 100.2,13.0 95.0,13.5Z"/>
<path d="M47.2,24.6 47.0,24.7 41.8,22.0 41.7,20.5 41.6,18.5 42.5,15.0 44.1,13.2 45.5,9.7 46.6,8.0 89.6,8.0 86.5,10.9 79.2,12.5 77.0,13.3 75.2,14.3 73.0,13.9 69.5,13.7 66.5,14.3 63.8,15.3 61.3,13.8 59.0,11.5 58.2,11.1 57.5,11.4 56.9,12.2 56.2,16.0 55.2,18.0 49.5,22.0 48.5,23.7 47.2,24.6ZM216.0,160.4 215.8,158.8 214.0,155.5 212.5,152.0 210.0,141.5 211.0,137.8 210.5,134.2 210.6,130.8 210.0,127.2 210.1,120.2 210.0,116.8 211.3,113.2 211.3,110.0 210.5,106.2 211.0,102.8 210.8,99.2 211.4,95.8 210.7,92.2 211.4,88.8 210.7,85.2 210.5,81.8 211.7,78.2 212.6,74.8 213.4,67.5 213.5,60.8 212.4,50.2 210.5,46.5 210.4,43.0 209.0,37.2 208.6,36.0 205.2,31.7 203.4,30.2 201.2,29.0 199.5,28.4 194.0,27.1 182.2,25.8 178.8,22.0 176.4,19.8 172.8,15.2 171.0,13.5 169.0,13.2 171.2,13.0 173.3,15.0 173.5,15.5 175.8,17.1 179.0,18.1 179.5,17.9 179.8,16.8 179.8,15.0 178.7,13.5 177.5,11.5 174.5,9.6 172.7,8.0 216.0,8.0 216.0,160.4ZM95.5,13.0 94.9,13.0 95.5,13.0ZM183.2,24.2 184.2,23.4 184.3,23.0 184.0,22.2 182.5,21.8 181.7,20.5 180.5,19.4 179.5,19.0 179.0,19.0 178.9,19.5 179.4,20.5 181.5,22.5 181.5,23.0 182.5,23.6 183.0,24.3 183.2,24.2ZM123.2,202.0 118.1,202.0 117.2,201.2 117.0,201.0 117.5,200.0 119.4,197.5 116.3,196.2 112.8,195.5 111.8,195.0 111.2,194.0 111.6,190.5 110.2,189.0 109.2,187.0 107.2,187.8 103.5,188.1 101.1,187.0 103.0,183.5 98.0,179.8 96.6,179.2 96.0,178.8 94.5,175.2 93.5,174.0 92.1,173.0 92.2,169.5 90.2,168.2 86.5,166.7 84.9,165.8 84.2,162.5 84.2,161.0 84.3,159.0 85.4,155.5 83.8,153.8 82.2,151.3 79.4,148.5 78.6,145.8 76.7,143.5 76.2,142.0 75.8,138.8 74.7,135.0 74.5,134.5 72.2,132.7 71.0,131.0 71.3,127.2 70.4,125.8 68.9,123.8 67.1,120.2 65.1,113.2 65.4,109.8 64.7,108.8 62.8,107.2 62.0,106.2 63.0,102.8 62.7,101.2 62.2,100.5 61.5,100.0 58.1,99.2 58.5,95.8 57.5,93.7 56.1,92.2 56.3,88.8 55.8,87.0 54.8,85.2 52.5,83.7 51.1,81.8 51.5,80.1 52.5,78.2 52.5,78.0 50.9,74.8 47.4,71.2 47.0,70.3 46.4,67.5 45.4,65.2 41.2,59.0 40.1,56.8 39.2,56.0 40.1,50.0 42.2,43.0 42.1,39.5 43.8,38.0 45.9,36.8 47.0,36.3 50.0,37.3 52.5,38.5 53.2,39.8 52.0,41.9 51.7,43.0 51.8,43.2 52.5,43.9 55.2,45.3 57.4,47.0 61.3,49.0 63.8,50.6 67.5,50.6 69.5,50.2 70.1,52.2 71.0,53.2 77.5,55.3 79.1,56.2 81.3,58.2 82.2,58.8 85.0,59.4 87.2,60.3 88.8,60.3 92.0,60.9 94.8,62.6 99.5,66.4 101.4,68.5 103.2,71.2 105.8,72.9 107.3,74.5 107.5,74.8 107.2,78.2 108.9,81.8 112.0,83.4 114.8,84.2 116.4,85.2 114.8,86.9 113.0,87.8 111.8,88.8 113.0,90.2 113.6,92.2 114.8,93.4 118.0,94.2 118.8,94.9 119.2,95.8 120.5,96.7 127.8,97.5 129.2,98.3 130.6,100.0 131.8,100.9 137.2,100.8 138.9,102.0 140.7,102.8 141.1,106.2 143.1,108.2 146.2,113.2 146.5,116.8 148.8,119.0 151.6,123.8 149.2,126.2 147.1,127.5 145.1,131.2 144.5,132.0 141.2,133.6 140.4,134.5 141.5,135.7 143.2,136.4 144.2,137.2 147.0,141.2 148.9,148.2 148.5,148.7 146.5,149.1 144.8,149.7 143.0,151.1 142.8,152.0 144.3,154.0 145.0,155.5 144.4,156.8 143.0,157.7 142.3,159.0 143.0,161.5 147.5,164.0 148.5,164.9 148.8,166.0 146.8,166.7 141.5,167.8 140.0,168.5 139.0,169.2 138.8,169.5 139.4,171.0 141.0,173.0 139.4,176.5 136.8,178.0 135.2,180.0 137.2,183.5 137.1,187.0 142.8,190.5 141.3,194.0 140.2,195.8 139.1,199.8 138.0,201.0 137.2,201.3 134.8,201.1 126.2,199.8 125.2,200.3 123.2,202.0ZM137.6,124.5 138.4,123.8 137.5,122.8 136.5,123.8 137.2,124.5 137.6,124.5ZM92.3,162.5 92.0,162.3 91.8,162.5 92.3,162.5ZM216.0,197.5 214.5,194.0 213.4,187.2 213.8,183.5 213.3,180.0 213.5,173.0 216.0,163.0 216.0,197.5ZM109.2,197.9 108.8,197.5 109.2,197.1 109.7,197.5 109.2,197.9Z"/>
<path d="M81.2,10.0 77.8,9.7 76.2,9.2 75.2,8.6 72.2,9.2 69.5,10.0 68.5,9.2 67.6,8.0 85.7,8.0 83.8,9.2 81.2,10.0ZM216.0,156.2 214.0,151.8 213.2,148.5 212.7,145.0 211.4,141.5 212.4,137.8 212.0,134.5 211.9,130.8 211.4,127.2 211.3,124.0 211.6,117.0 212.9,113.2 213.0,110.0 212.2,106.2 212.5,102.8 212.2,99.2 212.9,95.8 212.3,92.2 212.7,88.8 212.2,85.2 212.2,81.8 214.0,74.8 214.6,67.8 214.7,64.0 214.5,57.2 213.5,50.2 211.8,46.5 211.7,43.0 210.5,39.8 210.2,36.2 208.8,34.0 206.2,30.8 205.2,29.7 204.1,29.0 199.6,27.5 194.0,26.4 182.5,25.5 187.4,24.5 188.7,23.8 188.9,23.2 187.4,21.5 183.9,18.5 182.9,15.0 181.2,13.4 179.0,10.8 175.1,8.0 216.0,8.0 216.0,156.2ZM47.0,19.6 45.8,18.5 45.9,15.0 46.5,11.5 47.0,10.6 48.9,11.5 50.2,13.6 52.4,15.0 49.9,16.2 49.1,17.2 48.5,18.5 47.0,19.6ZM175.8,18.3 175.8,18.1 175.8,18.3ZM176.0,18.6 176.0,18.3 176.2,18.5 176.0,18.6ZM176.2,18.9 176.2,18.5 176.5,18.8 176.2,18.9ZM176.5,19.1 176.5,18.8 176.7,19.0 176.5,19.1ZM176.8,19.5 176.8,19.1 176.9,19.2 176.8,19.5ZM133.5,198.0 132.5,198.2 131.2,197.8 130.7,197.5 130.4,196.5 130.0,194.0 131.2,190.5 131.0,189.0 130.8,187.8 129.7,186.8 129.3,185.8 128.9,180.0 127.8,176.4 127.0,175.9 125.8,175.6 123.8,175.9 122.6,176.5 123.9,178.0 124.8,180.0 121.8,182.4 120.2,183.3 118.2,182.9 117.0,182.4 116.2,181.5 115.7,180.0 114.8,179.2 109.2,180.9 107.7,180.0 105.8,178.4 103.5,177.3 102.5,176.5 102.9,173.0 101.0,171.1 99.2,168.0 96.2,166.0 97.2,160.9 98.0,159.0 97.8,158.3 97.2,157.8 96.2,157.3 92.2,156.9 90.8,155.9 90.3,155.2 90.4,154.0 90.7,152.8 91.2,152.0 89.0,150.5 87.8,148.5 85.8,146.8 84.6,144.8 83.8,143.8 82.5,142.9 80.8,142.1 80.1,141.5 80.1,141.2 81.0,140.3 86.3,138.2 86.6,137.8 84.7,136.5 83.2,134.2 82.6,133.8 78.5,131.8 77.1,130.8 76.3,127.2 77.0,125.5 78.5,124.0 78.4,123.8 76.7,123.0 75.5,122.0 72.2,116.8 71.8,113.2 69.2,112.0 68.3,111.0 67.7,109.8 68.1,107.2 68.5,106.7 69.5,106.2 69.5,102.8 68.0,98.7 67.4,97.8 66.5,97.1 63.5,96.0 62.0,94.0 61.0,92.2 60.8,88.8 59.9,85.2 58.2,82.8 56.8,81.8 56.6,78.2 55.0,74.8 51.2,71.2 49.8,67.5 48.7,65.5 47.6,64.2 46.6,63.5 44.8,61.2 43.2,58.0 41.2,56.5 40.1,55.0 40.8,52.8 41.2,49.7 44.0,46.8 46.0,42.8 47.0,41.4 49.0,44.4 51.4,46.8 52.8,49.2 57.0,50.8 59.2,53.0 63.0,54.8 66.0,57.1 71.2,58.6 72.8,59.2 74.5,60.9 76.9,62.5 78.5,64.4 79.8,65.2 81.0,65.1 81.8,64.7 82.5,64.0 83.6,62.0 84.8,61.2 85.7,61.5 87.0,62.9 88.5,61.9 91.2,62.2 94.0,63.8 97.9,67.2 100.2,72.4 101.2,73.8 102.4,74.8 102.1,78.5 103.5,79.5 106.5,82.7 108.2,84.2 109.0,85.2 108.4,88.2 108.9,89.5 112.5,94.6 117.4,99.2 118.0,101.5 118.7,102.8 122.6,104.2 124.1,105.2 126.0,107.3 127.8,107.7 128.1,108.5 128.3,109.8 131.8,111.2 135.5,111.6 136.5,112.3 136.8,113.2 135.3,115.8 133.9,120.2 131.8,123.1 131.3,125.8 131.5,127.5 134.0,129.2 135.0,131.0 135.7,134.5 135.8,138.0 137.1,142.0 139.0,144.8 139.4,146.5 139.4,148.5 138.0,150.5 137.5,152.0 138.1,159.0 137.5,160.0 135.9,161.2 135.1,162.5 134.4,169.5 133.7,173.0 134.2,174.5 134.6,176.5 133.8,178.0 133.1,180.0 134.3,183.5 133.2,187.0 133.6,190.5 134.7,194.0 134.7,196.5 134.5,197.5 133.5,198.0ZM92.5,72.8 94.0,72.2 95.2,71.2 96.4,68.0 94.0,64.8 90.8,63.3 89.8,63.8 90.2,66.4 90.7,67.8 89.5,71.2 90.8,72.4 91.8,72.8 92.5,72.8ZM103.6,88.0 104.0,87.7 104.3,86.8 103.8,86.5 103.3,86.8 103.0,87.8 103.6,88.0ZM131.8,107.1 129.5,106.8 128.9,106.2 131.8,105.6 132.8,106.2 131.8,107.1ZM216.0,193.5 214.5,187.0 215.2,183.5 214.6,180.0 214.9,173.0 216.0,168.8 216.0,193.5ZM109.6,173.5 110.8,173.0 109.0,172.7 105.8,173.0 108.2,173.6 109.6,173.5ZM126.2,187.6 120.5,187.6 120.0,187.0 120.2,185.8 120.5,185.4 120.9,186.0 121.8,186.3 126.0,186.4 127.7,187.0 126.2,187.6ZM120.8,194.0 120.0,194.0 120.5,193.5 120.8,194.0Z"/>
<path d="M81.2,8.3 80.8,8.5 79.4,8.0 82.0,8.0 81.2,8.3ZM216.0,152.8 214.7,148.5 214.4,145.0 213.3,141.5 213.8,137.8 212.6,123.8 213.2,116.8 214.5,113.2 214.7,109.8 213.9,106.2 214.0,102.8 213.6,99.2 214.4,95.8 213.7,85.2 214.7,78.2 215.4,74.8 215.7,71.2 215.9,67.8 215.7,60.8 215.9,57.2 214.5,50.0 213.1,46.5 212.9,43.0 211.8,39.5 211.6,36.0 208.1,31.0 206.5,29.2 205.2,28.4 200.6,27.0 196.5,26.2 193.8,25.9 187.3,25.5 193.2,24.7 194.3,24.2 194.8,23.5 194.3,23.0 192.6,22.0 192.1,21.2 191.2,20.5 188.2,19.3 187.2,18.5 185.2,14.6 182.5,12.2 180.2,9.5 177.9,8.0 216.0,8.0 216.0,152.8ZM131.8,181.0 131.6,180.8 131.7,180.0 131.0,176.5 131.3,173.0 130.0,166.0 129.9,158.5 129.1,156.5 128.4,155.5 127.7,153.5 125.8,152.8 124.0,152.7 120.2,153.0 114.8,154.8 111.0,154.0 109.4,153.2 107.5,151.6 102.8,150.1 101.0,149.3 97.0,146.2 94.2,143.7 90.7,141.2 90.6,136.2 90.2,134.5 89.0,133.4 86.5,132.4 84.4,130.8 86.5,129.7 88.5,129.1 89.5,128.5 90.2,127.6 91.0,126.0 92.2,124.9 92.7,123.8 92.0,123.4 86.5,122.9 83.3,120.2 85.2,116.8 88.2,114.8 89.2,113.2 86.5,112.0 82.8,111.6 80.8,111.1 79.6,109.8 80.1,107.8 81.0,106.2 79.2,105.7 75.2,105.2 73.6,103.0 73.9,99.2 75.3,95.8 69.0,92.2 68.5,91.0 68.1,88.8 65.7,85.2 66.1,83.8 66.8,83.0 67.8,82.6 69.5,82.3 70.4,81.8 70.3,81.5 69.5,80.4 64.0,81.1 62.1,78.2 62.8,76.8 63.8,75.8 67.8,74.9 68.2,74.8 68.2,74.3 67.5,74.1 64.0,74.1 58.2,73.5 55.4,71.2 54.7,66.5 53.2,62.5 51.5,61.7 47.0,61.5 46.4,60.8 46.1,58.5 45.5,57.2 44.0,56.2 41.1,55.0 42.1,53.8 43.9,52.0 47.0,47.8 49.0,50.5 50.8,52.0 52.5,52.8 55.8,53.8 59.0,55.3 64.2,58.3 70.2,60.4 72.6,62.2 75.5,64.0 77.0,65.9 79.8,68.0 82.8,66.4 83.7,65.5 84.0,64.8 84.3,65.8 83.4,71.5 83.4,74.8 83.2,75.8 82.8,76.6 82.0,77.1 80.8,77.3 78.8,78.2 80.3,81.8 81.0,82.2 83.0,81.8 86.5,78.4 89.3,81.8 91.1,85.2 92.2,85.9 96.0,89.4 97.8,92.8 98.8,94.0 100.5,95.6 102.0,96.2 103.5,96.4 104.8,95.5 106.3,93.0 106.6,92.0 107.3,90.8 107.5,89.8 110.7,95.8 110.9,96.8 112.2,99.0 113.3,102.8 114.5,103.9 117.7,106.2 117.9,107.8 117.7,109.8 118.5,111.2 119.3,111.8 120.5,112.1 126.0,111.9 129.7,113.2 129.9,113.5 130.5,116.8 128.0,119.0 126.0,120.2 120.5,120.0 120.0,120.2 120.5,120.7 126.0,120.4 127.2,121.2 127.8,122.2 128.4,123.8 127.0,127.2 129.5,128.6 132.9,131.5 133.5,132.6 134.0,134.5 134.2,137.2 134.0,137.9 132.4,136.0 131.3,135.2 130.7,134.5 130.5,133.9 128.8,133.1 126.0,134.7 125.1,136.8 122.8,139.8 122.9,140.0 123.5,140.3 125.8,140.3 127.5,140.8 130.0,142.0 132.5,143.6 135.5,144.3 135.4,143.2 134.6,141.2 134.8,140.5 135.0,140.3 135.7,142.8 136.8,145.0 136.7,145.5 136.2,145.7 133.8,145.6 133.0,145.3 131.2,145.4 130.6,145.8 130.8,146.2 133.1,148.8 133.9,150.5 134.4,152.5 133.9,156.0 132.3,159.8 131.9,166.0 132.2,169.5 131.6,173.0 132.4,176.5 131.8,181.0ZM65.9,64.5 66.0,64.2 64.0,63.3 63.0,64.0 63.2,64.4 64.0,64.7 65.9,64.5ZM85.8,64.4 85.6,64.2 85.8,63.7 86.0,64.2 85.8,64.4ZM84.2,64.9 84.2,64.2 84.4,64.8 84.2,64.9ZM86.0,65.2 85.8,65.0 86.0,64.3 86.2,64.5 86.0,65.2ZM86.2,65.7 86.1,65.2 86.2,65.1 86.4,65.2 86.2,65.7ZM88.2,65.5 88.2,65.1 88.2,65.5ZM69.7,73.8 71.6,72.2 73.3,69.8 73.8,68.2 73.5,66.8 73.2,66.5 69.0,65.7 68.3,66.2 68.8,73.3 69.0,73.7 69.7,73.8ZM86.5,66.3 86.3,65.8 86.5,65.6 86.5,66.3ZM88.0,66.8 88.0,65.7 88.0,66.8ZM86.8,67.0 86.8,66.4 86.8,67.0ZM87.8,68.2 87.8,66.9 87.8,68.2ZM87.0,67.5 87.0,67.2 87.0,67.5ZM87.5,69.1 87.2,69.0 87.1,68.2 87.2,67.7 87.8,68.8 87.5,69.1ZM104.5,83.9 98.2,83.5 97.2,83.6 96.2,83.4 95.7,83.0 95.7,81.8 94.8,78.0 95.4,74.8 96.5,73.3 97.5,70.2 98.7,74.8 98.9,78.2 98.6,81.0 99.5,81.5 103.0,82.6 104.5,83.5 104.7,83.8 104.5,83.9ZM105.0,84.1 104.6,84.0 105.0,83.9 105.0,84.1ZM105.5,84.3 105.2,84.2 105.5,84.3ZM106.0,84.5 105.7,84.5 106.0,84.5ZM106.8,85.5 106.8,85.0 106.8,85.5ZM86.6,92.5 86.9,92.2 86.5,91.8 85.9,92.2 86.6,92.5ZM105.5,111.2 107.5,110.9 108.8,110.3 109.4,109.8 109.8,108.5 109.2,103.2 108.4,101.8 107.8,101.1 107.0,100.8 106.2,100.8 104.5,101.4 103.2,102.0 102.3,102.8 103.0,103.4 106.1,105.2 107.1,106.2 105.5,107.1 102.2,108.1 101.2,108.8 100.6,109.8 101.2,110.5 102.5,111.1 103.5,111.4 105.5,111.2ZM134.2,139.0 134.0,138.8 134.2,137.9 134.2,139.0ZM134.5,139.7 134.2,139.5 134.5,138.9 134.7,139.5 134.5,139.7ZM134.8,140.5 134.4,140.2 134.8,139.6 134.9,140.2 134.8,140.5ZM124.7,150.0 125.2,149.7 125.7,148.5 124.5,147.9 123.0,147.6 121.5,147.6 120.5,147.8 119.8,148.5 120.5,149.1 122.0,149.7 124.7,150.0ZM120.5,163.6 118.0,163.2 116.1,162.0 114.8,161.6 112.8,161.9 111.2,162.7 109.2,163.1 105.7,162.5 105.7,162.2 109.8,160.7 110.2,160.2 110.9,158.0 111.6,157.0 112.8,156.4 114.8,155.9 118.8,157.9 120.4,159.0 121.0,159.8 122.4,162.5 120.5,163.6ZM216.0,180.3 216.0,178.7 216.0,180.3ZM132.0,185.6 131.2,183.5 131.8,181.0 132.0,180.9 132.6,183.5 132.0,185.6ZM216.0,188.4 215.6,187.0 216.0,185.3 216.0,188.4ZM132.5,195.1 132.5,193.9 132.5,195.1Z"/>
<path d="M216.0,52.5 215.6,50.0 214.4,46.5 214.1,43.0 213.3,39.5 213.0,36.0 210.8,32.2 208.0,29.0 205.2,27.4 199.9,26.2 194.4,25.5 199.5,24.1 200.2,23.2 200.3,22.0 199.5,21.2 196.2,19.9 194.0,18.2 191.2,17.4 189.5,16.5 188.5,15.5 186.7,13.0 181.9,8.0 216.0,8.0 216.0,52.5ZM59.8,57.4 57.8,57.1 55.0,55.4 52.5,56.5 47.0,56.1 44.2,55.0 47.0,53.0 50.0,54.1 55.2,54.9 59.2,56.8 59.9,57.2 59.8,57.4ZM60.2,57.6 59.8,57.5 60.2,57.6ZM66.0,60.3 65.7,60.2 66.0,60.3ZM66.5,60.7 66.1,60.5 66.5,60.4 66.5,60.7ZM67.0,60.9 66.6,60.8 67.0,60.6 67.2,60.8 67.0,60.9ZM67.5,61.2 67.1,61.0 67.5,60.8 67.7,61.0 67.5,61.2ZM68.0,61.4 67.6,61.2 68.0,61.1 68.2,61.2 68.0,61.4ZM68.5,61.7 68.1,61.5 68.5,61.3 68.7,61.5 68.5,61.7ZM69.0,61.9 68.6,61.8 69.0,61.6 69.2,61.8 69.0,61.9ZM69.5,62.2 69.1,62.0 69.5,61.8 69.5,62.2ZM70.0,62.3 69.6,62.2 70.0,62.2 70.0,62.3ZM70.2,62.5 70.5,62.5 70.2,62.5ZM76.8,68.4 76.8,68.0 76.8,68.4ZM77.0,68.6 77.0,68.4 77.0,68.6ZM77.2,69.2 77.1,69.0 77.2,68.6 77.4,69.0 77.2,69.2ZM80.2,74.3 79.8,74.4 79.2,74.0 78.7,72.5 77.5,70.2 77.2,69.5 77.5,69.0 80.0,72.6 80.8,71.8 81.0,72.0 80.5,74.0 80.2,74.3ZM81.8,70.3 81.8,70.0 81.8,70.3ZM81.5,70.8 81.5,70.4 81.5,70.8ZM81.2,71.4 81.2,70.9 81.2,71.4ZM81.0,72.0 80.8,71.8 81.0,71.4 81.2,71.8 81.0,72.0ZM216.0,108.2 215.6,106.2 215.5,102.8 214.9,99.2 215.9,95.8 215.2,85.2 216.0,81.9 216.0,108.2ZM109.0,98.0 108.5,97.6 108.1,96.5 108.0,95.0 108.2,94.3 108.9,95.8 109.0,97.5 109.2,97.8 109.0,98.0ZM109.2,98.1 109.1,98.0 109.2,97.8 109.2,98.1ZM109.5,98.4 109.5,98.1 109.5,98.4ZM110.0,99.0 110.0,98.7 110.0,99.0ZM110.2,139.0 109.0,139.0 108.2,138.0 108.2,137.8 109.2,136.9 111.0,136.7 112.0,136.2 112.3,135.8 112.5,134.5 109.6,127.5 109.2,123.8 108.0,121.8 107.5,120.2 109.8,117.9 110.5,116.8 111.1,113.2 112.0,111.5 112.8,108.2 112.2,106.0 112.2,104.8 112.1,104.5 112.2,103.9 112.4,104.5 114.1,106.2 114.8,107.8 114.6,109.8 113.8,112.8 113.8,114.0 114.1,115.5 114.8,116.8 114.5,120.0 116.0,123.8 117.0,125.0 117.8,125.5 120.5,126.1 120.9,126.5 121.4,127.2 121.5,129.0 121.7,130.0 123.5,132.1 124.2,131.7 124.8,131.7 125.2,131.2 126.5,130.6 127.8,130.2 128.5,130.1 128.7,130.2 127.5,131.6 123.8,134.5 120.5,135.6 118.2,135.8 116.5,136.3 115.7,137.0 114.8,138.4 110.2,139.0ZM92.2,106.6 91.5,106.2 92.2,106.2 92.2,106.6ZM216.0,144.6 215.2,141.2 215.3,137.8 213.9,123.8 214.7,116.8 216.0,113.6 216.0,144.6ZM103.5,131.0 98.8,130.8 100.8,130.5 101.9,130.0 102.6,129.0 103.0,127.5 103.5,127.1 104.3,127.5 104.1,130.8 103.5,131.0ZM128.8,130.1 128.8,129.9 128.8,130.1ZM129.2,130.3 128.9,130.2 129.2,130.3ZM128.2,145.5 127.0,144.0 127.2,143.4 128.4,143.8 128.0,144.2 128.4,145.0 128.2,145.5ZM129.0,144.0 128.3,144.0 128.5,143.9 129.0,144.0ZM128.5,145.7 128.3,145.5 128.5,145.3 128.5,145.7ZM128.8,146.2 128.6,146.0 128.8,145.6 128.8,146.2ZM129.0,146.6 128.8,146.5 129.0,146.1 129.0,146.6ZM129.2,147.2 129.1,147.0 129.2,146.6 129.2,147.2ZM129.5,147.4 129.3,147.2 129.5,147.1 129.5,147.4ZM129.8,148.0 129.6,147.8 129.8,147.4 129.9,147.8 129.8,148.0ZM132.0,156.1 131.8,155.9 131.6,154.8 131.8,154.2 131.8,153.2 132.1,152.8 131.5,152.0 130.0,148.9 129.8,148.2 130.0,147.8 132.0,150.8 132.8,152.5 132.5,154.5 132.0,156.1ZM131.8,156.9 131.6,156.2 131.8,156.0 131.8,156.9Z"/>
<path d="M216.0,47.3 214.8,39.5 214.5,36.0 212.5,32.5 211.0,30.3 209.2,28.6 206.1,27.0 202.9,26.2 197.7,25.5 200.5,24.8 202.0,24.0 202.4,23.0 201.9,21.5 199.8,19.5 191.3,15.0 188.7,11.5 185.1,8.0 216.0,8.0 216.0,47.3ZM120.8,133.5 119.5,133.6 117.2,133.2 116.0,133.2 114.6,132.8 112.7,127.2 111.9,123.2 110.6,120.5 111.5,118.2 112.6,123.5 114.3,127.8 115.3,131.8 116.2,132.2 117.5,132.2 118.0,132.5 120.5,132.8 121.2,133.2 120.8,133.5ZM216.0,128.6 215.3,123.8 216.0,118.2 216.0,128.6ZM121.5,133.5 121.1,133.5 121.5,133.5Z"/>
</g></g>
<linearGradient id="ovg" gradientUnits="userSpaceOnUse" x1="0" y1="58" x2="0" y2="100"><stop offset="0" stop-color="rgb(128,150,232)"/><stop offset="1" stop-color="rgb(150,146,192)"/></linearGradient>
<path d="M125.0,21.7 181.0,42.0 200.0,47.5 204.0,53.0 203.0,62.0 201.0,68.0 200.5,72.0 199.0,80.0 197.5,90.0 195.0,100.0 196.0,110.0 198.8,116.0 200.0,126.0 202.5,136.0 203.8,146.0 206.0,156.0 207.5,159.8 192.5,164.8 180.0,161.0 180.5,156.0 182.5,146.0 183.8,136.0 185.0,126.0 185.0,116.0 186.0,110.0 187.0,100.0 186.0,90.0 185.0,80.0 182.5,70.0 180.5,62.0 177.5,50.0 159.6,45.1 141.8,43.0 119.5,44.0Z" fill="url(#ovg)" fill-opacity="0.88"/>
<text x="126.30" y="38.00" font-size="14" text-anchor="start" font-weight="bold" fill="#5a5cc0" >I</text>
<text x="183.30" y="62.50" font-size="15" text-anchor="start" font-weight="bold" fill="#6366c8" >C</text>
<path d="M33.3,10 H215 M33.3,10 V199.4 H215" fill="none" stroke="#c4c4c4" stroke-width="1.3"/>
<path d="M61.56,199.4 v-4" stroke="#7a7a7a" stroke-width="1"/>
<path d="M89.82,199.4 v-4" stroke="#7a7a7a" stroke-width="1"/>
<path d="M118.08,199.4 v-4" stroke="#7a7a7a" stroke-width="1"/>
<path d="M146.34,199.4 v-4" stroke="#7a7a7a" stroke-width="1"/>
<path d="M174.60,199.4 v-4" stroke="#7a7a7a" stroke-width="1"/>
<path d="M202.86,199.4 v-4" stroke="#7a7a7a" stroke-width="1"/>
<path d="M33.3,164.30 h3" stroke="#7a7a7a" stroke-width="1"/>
<path d="M33.3,129.20 h3" stroke="#7a7a7a" stroke-width="1"/>
<path d="M33.3,94.10 h3" stroke="#7a7a7a" stroke-width="1"/>
<path d="M33.3,59.00 h3" stroke="#7a7a7a" stroke-width="1"/>
<path d="M33.3,23.90 h3" stroke="#7a7a7a" stroke-width="1"/>
<text x="33.30" y="208.60" font-size="10" text-anchor="middle" font-weight="normal" fill="#000" >0</text>
<text x="61.56" y="208.60" font-size="10" text-anchor="middle" font-weight="normal" fill="#000" >50</text>
<text x="89.82" y="208.60" font-size="10" text-anchor="middle" font-weight="normal" fill="#000" >100</text>
<text x="118.08" y="208.60" font-size="10" text-anchor="middle" font-weight="normal" fill="#000" >150</text>
<text x="146.34" y="208.60" font-size="10" text-anchor="middle" font-weight="normal" fill="#000" >200</text>
<text x="174.60" y="208.60" font-size="10" text-anchor="middle" font-weight="normal" fill="#000" >250</text>
<text x="202.86" y="208.60" font-size="10" text-anchor="middle" font-weight="normal" fill="#000" >300</text>
<text x="28.00" y="203.00" font-size="10" text-anchor="end" font-weight="normal" fill="#000" >0.0</text>
<text x="28.00" y="167.90" font-size="10" text-anchor="end" font-weight="normal" fill="#000" >0.1</text>
<text x="28.00" y="132.80" font-size="10" text-anchor="end" font-weight="normal" fill="#000" >0.2</text>
<text x="28.00" y="97.70" font-size="10" text-anchor="end" font-weight="normal" fill="#000" >0.3</text>
<text x="28.00" y="62.60" font-size="10" text-anchor="end" font-weight="normal" fill="#000" >0.4</text>
<text x="28.00" y="27.50" font-size="10" text-anchor="end" font-weight="normal" fill="#000" >0.5</text>
<rect x="55" y="11" width="160.5" height="76" fill="none" stroke="#000" stroke-width="2" stroke-dasharray="3.6,1.7"/>
<rect x="181.6" y="25.8" width="31" height="173" fill="none" stroke="#3344ff" stroke-width="1.8" stroke-dasharray="2.6,2.4"/>
<text x="2.00" y="11.60" font-size="13.5" text-anchor="start" font-weight="bold" fill="#000" >A</text>
<text x="27.20" y="38.60" font-size="14.5" text-anchor="start" font-weight="bold" fill="#000" >N</text>
<text x="146.00" y="63.40" font-size="15" text-anchor="start" font-weight="bold" fill="#000" >TS0</text>
<path d="M175.00,41.90 V54.70 M171.40,45.80 H178.70 M171.40,50.70 H178.70" stroke="#000" stroke-width="1.9" fill="none"/>
<text x="183.50" y="123.50" font-size="14" text-anchor="start" font-weight="bold" fill="#3650ff" >TS1</text>
<path d="M190.60,97.00 V107.70 M187.40,101.40 H194.20 M187.40,105.60 H194.20" stroke="#3d4ff5" stroke-width="2.2" fill="none"/>
<text x="188.20" y="195.00" font-size="14.5" text-anchor="start" font-weight="bold" fill="#000" >D</text>
<text x="53.30" y="178.00" font-size="18" text-anchor="start" font-weight="normal" fill="#000" >0 pN</text>
<text x="100.6" y="221.4" font-size="12">N<tspan font-size="8.3" dy="2.2">D1&#8722;VBS3</tspan></text>
<text transform="translate(9.4,124.7) rotate(-90)" font-size="12">Q<tspan font-size="8" dy="2.3">D1&#8722;Vt</tspan></text>
<rect x="223.3" y="9.50" width="9.7" height="6.63" fill="#8d0000"/>
<rect x="223.3" y="15.83" width="9.7" height="6.63" fill="#a60000"/>
<rect x="223.3" y="22.17" width="9.7" height="6.63" fill="#c00000"/>
<rect x="223.3" y="28.50" width="9.7" height="6.63" fill="#d90000"/>
<rect x="223.3" y="34.83" width="9.7" height="6.63" fill="#f20000"/>
<rect x="223.3" y="41.17" width="9.7" height="6.63" fill="#ff1200"/>
<rect x="223.3" y="47.50" width="9.7" height="6.63" fill="#ff3700"/>
<rect x="223.3" y="53.83" width="9.7" height="6.63" fill="#ff5b00"/>
<rect x="223.3" y="60.17" width="9.7" height="6.63" fill="#ff8000"/>
<rect x="223.3" y="66.50" width="9.7" height="6.63" fill="#ffa400"/>
<rect x="223.3" y="72.83" width="9.7" height="6.63" fill="#ffc800"/>
<rect x="223.3" y="79.17" width="9.7" height="6.63" fill="#ffed00"/>
<rect x="223.3" y="85.50" width="9.7" height="6.63" fill="#eeff11"/>
<rect x="223.3" y="91.83" width="9.7" height="6.63" fill="#ccff33"/>
<rect x="223.3" y="98.17" width="9.7" height="6.63" fill="#aaff55"/>
<rect x="223.3" y="104.50" width="9.7" height="6.63" fill="#88ff77"/>
<rect x="223.3" y="110.83" width="9.7" height="6.63" fill="#66ff99"/>
<rect x="223.3" y="117.17" width="9.7" height="6.63" fill="#44ffbb"/>
<rect x="223.3" y="123.50" width="9.7" height="6.63" fill="#22ffdd"/>
<rect x="223.3" y="129.83" width="9.7" height="6.63" fill="#00ffff"/>
<rect x="223.3" y="136.17" width="9.7" height="6.63" fill="#00d4ff"/>
<rect x="223.3" y="142.50" width="9.7" height="6.63" fill="#00aaff"/>
<rect x="223.3" y="148.83" width="9.7" height="6.63" fill="#0080ff"/>
<rect x="223.3" y="155.17" width="9.7" height="6.63" fill="#0055ff"/>
<rect x="223.3" y="161.50" width="9.7" height="6.63" fill="#002aff"/>
<rect x="223.3" y="167.83" width="9.7" height="6.63" fill="#0000ff"/>
<rect x="223.3" y="174.17" width="9.7" height="6.63" fill="#0000e3"/>
<rect x="223.3" y="180.50" width="9.7" height="6.63" fill="#0000c7"/>
<rect x="223.3" y="186.83" width="9.7" height="6.63" fill="#0000aa"/>
<rect x="223.3" y="193.17" width="9.7" height="6.63" fill="#00008e"/>
<path d="M223.3,15.83 h9.7" stroke="#000" stroke-opacity="0.6" stroke-width="0.6"/>
<path d="M223.3,22.17 h9.7" stroke="#000" stroke-opacity="0.6" stroke-width="0.6"/>
<path d="M223.3,28.50 h9.7" stroke="#000" stroke-opacity="0.6" stroke-width="0.6"/>
<path d="M223.3,34.83 h9.7" stroke="#000" stroke-opacity="0.6" stroke-width="0.6"/>
<path d="M223.3,41.17 h9.7" stroke="#000" stroke-opacity="0.6" stroke-width="0.6"/>
<path d="M223.3,47.50 h9.7" stroke="#000" stroke-opacity="0.6" stroke-width="0.6"/>
<path d="M223.3,53.83 h9.7" stroke="#000" stroke-opacity="0.6" stroke-width="0.6"/>
<path d="M223.3,60.17 h9.7" stroke="#000" stroke-opacity="0.6" stroke-width="0.6"/>
<path d="M223.3,66.50 h9.7" stroke="#000" stroke-opacity="0.6" stroke-width="0.6"/>
<path d="M223.3,72.83 h9.7" stroke="#000" stroke-opacity="0.6" stroke-width="0.6"/>
<path d="M223.3,79.17 h9.7" stroke="#000" stroke-opacity="0.6" stroke-width="0.6"/>
<path d="M223.3,85.50 h9.7" stroke="#000" stroke-opacity="0.6" stroke-width="0.6"/>
<path d="M223.3,91.83 h9.7" stroke="#000" stroke-opacity="0.6" stroke-width="0.6"/>
<path d="M223.3,98.17 h9.7" stroke="#000" stroke-opacity="0.6" stroke-width="0.6"/>
<path d="M223.3,104.50 h9.7" stroke="#000" stroke-opacity="0.6" stroke-width="0.6"/>
<path d="M223.3,110.83 h9.7" stroke="#000" stroke-opacity="0.6" stroke-width="0.6"/>
<path d="M223.3,117.17 h9.7" stroke="#000" stroke-opacity="0.6" stroke-width="0.6"/>
<path d="M223.3,123.50 h9.7" stroke="#000" stroke-opacity="0.6" stroke-width="0.6"/>
<path d="M223.3,129.83 h9.7" stroke="#000" stroke-opacity="0.6" stroke-width="0.6"/>
<path d="M223.3,136.17 h9.7" stroke="#000" stroke-opacity="0.6" stroke-width="0.6"/>
<path d="M223.3,142.50 h9.7" stroke="#000" stroke-opacity="0.6" stroke-width="0.6"/>
<path d="M223.3,148.83 h9.7" stroke="#000" stroke-opacity="0.6" stroke-width="0.6"/>
<path d="M223.3,155.17 h9.7" stroke="#000" stroke-opacity="0.6" stroke-width="0.6"/>
<path d="M223.3,161.50 h9.7" stroke="#000" stroke-opacity="0.6" stroke-width="0.6"/>
<path d="M223.3,167.83 h9.7" stroke="#000" stroke-opacity="0.6" stroke-width="0.6"/>
<path d="M223.3,174.17 h9.7" stroke="#000" stroke-opacity="0.6" stroke-width="0.6"/>
<path d="M223.3,180.50 h9.7" stroke="#000" stroke-opacity="0.6" stroke-width="0.6"/>
<path d="M223.3,186.83 h9.7" stroke="#000" stroke-opacity="0.6" stroke-width="0.6"/>
<path d="M223.3,193.17 h9.7" stroke="#000" stroke-opacity="0.6" stroke-width="0.6"/>
<text x="238.50" y="13.90" font-size="10" text-anchor="start" font-weight="normal" fill="#000" >15</text>
<text x="238.50" y="45.57" font-size="10" text-anchor="start" font-weight="normal" fill="#000" >10</text>
<text x="238.50" y="77.23" font-size="10" text-anchor="start" font-weight="normal" fill="#000" >5</text>
<text x="238.50" y="108.90" font-size="10" text-anchor="start" font-weight="normal" fill="#000" >0</text>
<text x="238.50" y="140.57" font-size="10" text-anchor="start" font-weight="normal" fill="#000" >-5</text>
<text x="238.50" y="172.23" font-size="10" text-anchor="start" font-weight="normal" fill="#000" >-10</text>
<text x="238.50" y="203.90" font-size="10" text-anchor="start" font-weight="normal" fill="#000" >-15</text>
<rect x="293.5" y="30.5" width="209.5" height="155.5" fill="none" stroke="#7a7a7a" stroke-width="1"/>
<path d="M293.0,186.0 H503.5" stroke="#adadad" stroke-width="1.5"/>
<path d="M326.33,186.0 v-2 M326.33,30.5 v2" stroke="#7a7a7a" stroke-width="1"/>
<path d="M359.17,186.0 v-4 M359.17,30.5 v4" stroke="#7a7a7a" stroke-width="1"/>
<path d="M392.00,186.0 v-2 M392.00,30.5 v2" stroke="#7a7a7a" stroke-width="1"/>
<path d="M424.84,186.0 v-4 M424.84,30.5 v4" stroke="#7a7a7a" stroke-width="1"/>
<path d="M457.67,186.0 v-2 M457.67,30.5 v2" stroke="#7a7a7a" stroke-width="1"/>
<path d="M490.51,186.0 v-4 M490.51,30.5 v4" stroke="#7a7a7a" stroke-width="1"/>
<path d="M293.5,173.00 h2 M503.0,173.00 h-2" stroke="#7a7a7a" stroke-width="1"/>
<path d="M293.5,160.00 h3 M503.0,160.00 h-3" stroke="#7a7a7a" stroke-width="1"/>
<path d="M293.5,147.00 h2 M503.0,147.00 h-2" stroke="#7a7a7a" stroke-width="1"/>
<path d="M293.5,134.00 h3 M503.0,134.00 h-3" stroke="#7a7a7a" stroke-width="1"/>
<path d="M293.5,121.00 h2 M503.0,121.00 h-2" stroke="#7a7a7a" stroke-width="1"/>
<path d="M293.5,108.00 h3 M503.0,108.00 h-3" stroke="#7a7a7a" stroke-width="1"/>
<path d="M293.5,95.00 h2 M503.0,95.00 h-2" stroke="#7a7a7a" stroke-width="1"/>
<path d="M293.5,82.00 h3 M503.0,82.00 h-3" stroke="#7a7a7a" stroke-width="1"/>
<path d="M293.5,69.00 h2 M503.0,69.00 h-2" stroke="#7a7a7a" stroke-width="1"/>
<path d="M293.5,56.00 h3 M503.0,56.00 h-3" stroke="#7a7a7a" stroke-width="1"/>
<path d="M293.5,43.00 h2 M503.0,43.00 h-2" stroke="#7a7a7a" stroke-width="1"/>
<polyline fill="none" stroke="#333333" stroke-width="0.8" stroke-linejoin="round" points="295.50,131.00 297.00,121.00 299.50,93.50 300.50,81.00 302.50,42.00 309.50,32.50 315.00,37.50 330.00,56.00 340.00,76.00 350.00,97.00 356.00,113.50 363.75,124.75 371.25,137.00 375.00,144.50 387.50,173.25 393.75,179.00 401.25,175.75 407.50,162.00 411.25,160.75 415.00,158.25 417.50,160.75 421.25,164.50 426.25,164.50 435.00,158.25 440.00,155.75 446.25,152.50 458.75,144.50 473.75,155.75 480.00,154.50 487.50,145.75 491.25,137.00 492.50,116.00 497.50,88.50 502.50,30.00"/>
<polyline fill="none" stroke="#ff0000" stroke-width="0.8" stroke-linejoin="round" points="302.50,46.25 308.75,48.75 315.00,45.50 327.50,53.75 336.00,65.00 343.75,78.75 350.00,97.50 356.00,113.50 363.75,125.00 371.25,137.50 375.00,145.00 387.50,173.50 393.75,177.50 401.25,174.50 407.50,162.00 411.25,161.00 415.00,158.50 417.50,161.00 421.25,164.50 426.25,164.00 435.00,158.00 440.00,156.50 446.25,155.75 458.75,149.50 473.75,162.00 480.00,161.00 486.25,154.50 490.00,139.50 492.50,118.00 497.50,89.00 502.50,30.00"/>
<polyline fill="none" stroke="#00ff00" stroke-width="0.8" stroke-linejoin="round" points="302.50,58.75 307.50,58.75 315.00,55.00 320.00,57.50 335.00,68.75 342.50,81.00 350.00,101.00 356.00,114.60 368.90,136.00 375.00,147.00 387.50,174.00 393.75,178.50 401.25,176.00 407.50,163.00 411.25,161.50 415.00,159.00 417.50,161.00 421.25,165.00 426.25,164.50 435.00,159.00 440.00,157.50 446.25,157.00 458.75,152.50 473.75,165.75 480.00,165.00 486.25,157.00 490.00,141.00 492.50,119.00 497.50,89.50 502.50,30.00"/>
<polyline fill="none" stroke="#0000ff" stroke-width="0.8" stroke-linejoin="round" points="302.50,64.25 308.75,64.25 315.00,59.50 327.50,68.75 336.00,78.75 343.75,101.00 350.00,111.00 356.25,127.25 362.50,137.00 365.00,140.00 372.50,147.00 387.50,174.50 393.75,180.75 401.25,177.00 407.50,164.00 411.25,162.00 415.00,159.50 417.50,161.50 421.25,165.50 426.25,165.00 435.00,159.50 440.00,158.00 446.25,158.50 458.75,154.00 473.75,167.75 480.00,167.00 486.25,158.00 490.00,142.00 492.50,120.00 497.50,90.00 502.50,30.00"/>
<polyline fill="none" stroke="#ff00ff" stroke-width="0.8" stroke-linejoin="round" points="302.50,64.00 308.75,63.75 315.00,60.00 322.50,70.00 331.00,81.00 336.00,86.00 342.50,106.00 348.75,118.50 350.00,123.50 352.50,137.00 355.00,140.00 360.00,147.00 366.25,148.25 373.75,152.00 382.50,167.00 391.25,183.25 393.75,184.50 401.25,178.25 406.25,164.50 411.25,162.00 415.00,159.50 417.50,162.00 421.25,165.50 426.25,165.00 435.00,160.00 442.50,157.00 446.25,160.75 458.75,154.50 473.75,168.50 480.00,167.50 486.25,158.00 490.00,142.00 492.50,120.00 497.50,90.00 502.50,30.00"/>
<text x="293.50" y="194.40" font-size="10" text-anchor="middle" font-weight="normal" fill="#000" >0</text>
<text x="359.17" y="194.40" font-size="10" text-anchor="middle" font-weight="normal" fill="#000" >100</text>
<text x="424.84" y="194.40" font-size="10" text-anchor="middle" font-weight="normal" fill="#000" >200</text>
<text x="490.51" y="194.40" font-size="10" text-anchor="middle" font-weight="normal" fill="#000" >300</text>
<text x="291.60" y="190.30" font-size="10" text-anchor="end" font-weight="normal" fill="#000" >0</text>
<text x="291.60" y="164.30" font-size="10" text-anchor="end" font-weight="normal" fill="#000" >2</text>
<text x="291.60" y="138.30" font-size="10" text-anchor="end" font-weight="normal" fill="#000" >4</text>
<text x="291.60" y="112.30" font-size="10" text-anchor="end" font-weight="normal" fill="#000" >6</text>
<text x="291.60" y="86.30" font-size="10" text-anchor="end" font-weight="normal" fill="#000" >8</text>
<text x="291.60" y="60.30" font-size="10" text-anchor="end" font-weight="normal" fill="#000" >10</text>
<text x="291.60" y="34.30" font-size="10" text-anchor="end" font-weight="normal" fill="#000" >12</text>
<text x="265.00" y="12.20" font-size="14" text-anchor="start" font-weight="bold" fill="#000" >B</text>
<text x="379" y="205.9" font-size="10.5">N<tspan font-size="7.4" dy="3.6">D1-VBS3</tspan></text>
<text transform="translate(276.6,151.7) rotate(-90)" font-size="11">Free Energy (k<tspan font-size="7" dy="2.5">B</tspan><tspan dy="-2.5">T)</tspan></text>
<text x="290.20" y="68.30" font-size="13.5" text-anchor="start" font-weight="bold" fill="#000" >N</text>
<text x="401.10" y="159.90" font-size="15.5" text-anchor="start" font-weight="bold" fill="#000" >I</text>
<text x="427.60" y="129.00" font-size="14.5" text-anchor="start" font-weight="normal" fill="#000" >TS0</text>
<path d="M456.90,130.00 V143.20 M452.90,133.90 H460.70 M452.90,139.00 H460.70" stroke="#000" stroke-width="1.9" fill="none"/>
<text x="469.00" y="148.00" font-size="14.5" text-anchor="start" font-weight="bold" fill="#000" >C</text>
<path d="M435.2,47.60 H446.8" stroke="#333333" stroke-width="1"/>
<text x="481.00" y="51.20" font-size="10" text-anchor="end" font-weight="normal" fill="#000" >0pN</text>
<path d="M435.2,58.00 H446.8" stroke="#ff0000" stroke-width="1"/>
<text x="481.00" y="61.60" font-size="10" text-anchor="end" font-weight="normal" fill="#000" >10pN</text>
<path d="M435.2,68.40 H446.8" stroke="#00ff00" stroke-width="1"/>
<text x="481.00" y="72.00" font-size="10" text-anchor="end" font-weight="normal" fill="#000" >20pN</text>
<path d="M435.2,78.80 H446.8" stroke="#0000ff" stroke-width="1"/>
<text x="481.00" y="82.40" font-size="10" text-anchor="end" font-weight="normal" fill="#000" >30pN</text>
<path d="M435.2,89.20 H446.8" stroke="#ff00ff" stroke-width="1"/>
<text x="481.00" y="92.80" font-size="10" text-anchor="end" font-weight="normal" fill="#000" >40pN</text>
<rect x="544.8" y="30.5" width="209.8" height="155.5" fill="none" stroke="#7a7a7a" stroke-width="1"/>
<path d="M544.2,186.0 H755.0" stroke="#adadad" stroke-width="1.5"/>
<path d="M564.25,186.0 v-2 M564.25,30.5 v2" stroke="#7a7a7a" stroke-width="1"/>
<path d="M583.75,186.0 v-4 M583.75,30.5 v4" stroke="#7a7a7a" stroke-width="1"/>
<path d="M603.25,186.0 v-2 M603.25,30.5 v2" stroke="#7a7a7a" stroke-width="1"/>
<path d="M622.75,186.0 v-4 M622.75,30.5 v4" stroke="#7a7a7a" stroke-width="1"/>
<path d="M642.25,186.0 v-2 M642.25,30.5 v2" stroke="#7a7a7a" stroke-width="1"/>
<path d="M661.75,186.0 v-4 M661.75,30.5 v4" stroke="#7a7a7a" stroke-width="1"/>
<path d="M681.25,186.0 v-2 M681.25,30.5 v2" stroke="#7a7a7a" stroke-width="1"/>
<path d="M700.75,186.0 v-4 M700.75,30.5 v4" stroke="#7a7a7a" stroke-width="1"/>
<path d="M720.25,186.0 v-2 M720.25,30.5 v2" stroke="#7a7a7a" stroke-width="1"/>
<path d="M739.75,186.0 v-4 M739.75,30.5 v4" stroke="#7a7a7a" stroke-width="1"/>
<path d="M544.8,173.00 h2 M754.5,173.00 h-2" stroke="#7a7a7a" stroke-width="1"/>
<path d="M544.8,160.00 h3 M754.5,160.00 h-3" stroke="#7a7a7a" stroke-width="1"/>
<path d="M544.8,147.00 h2 M754.5,147.00 h-2" stroke="#7a7a7a" stroke-width="1"/>
<path d="M544.8,134.00 h3 M754.5,134.00 h-3" stroke="#7a7a7a" stroke-width="1"/>
<path d="M544.8,121.00 h2 M754.5,121.00 h-2" stroke="#7a7a7a" stroke-width="1"/>
<path d="M544.8,108.00 h3 M754.5,108.00 h-3" stroke="#7a7a7a" stroke-width="1"/>
<path d="M544.8,95.00 h2 M754.5,95.00 h-2" stroke="#7a7a7a" stroke-width="1"/>
<path d="M544.8,82.00 h3 M754.5,82.00 h-3" stroke="#7a7a7a" stroke-width="1"/>
<path d="M544.8,69.00 h2 M754.5,69.00 h-2" stroke="#7a7a7a" stroke-width="1"/>
<path d="M544.8,56.00 h3 M754.5,56.00 h-3" stroke="#7a7a7a" stroke-width="1"/>
<path d="M544.8,43.00 h2 M754.5,43.00 h-2" stroke="#7a7a7a" stroke-width="1"/>
<path fill="none" stroke="#333333" stroke-width="0.8" d="M547.80,115.60 C547.80,115.60 560.47,105.70 565.00,100.00 C569.53,94.30 571.33,86.07 575.00,81.40 C578.67,76.73 583.67,73.90 587.00,72.00 C590.33,70.10 592.08,70.43 595.00,70.00 C597.92,69.57 602.00,69.19 604.50,69.40 C607.00,69.61 607.42,71.32 610.00,71.25 C612.58,71.18 616.67,69.89 620.00,69.00 C623.33,68.11 626.55,67.32 630.00,65.90 C633.45,64.48 636.53,61.69 640.70,60.50 C644.87,59.31 650.83,58.30 655.00,58.75 C659.17,59.20 663.20,61.86 665.70,63.20 C668.20,64.54 667.37,63.83 670.00,66.80 C672.63,69.77 677.50,75.22 681.50,81.00 C685.50,86.78 690.29,96.71 694.00,101.50 C697.71,106.29 703.75,109.75 703.75,109.75 C703.75,109.75 712.50,109.75 712.50,109.75 C712.50,109.75 717.08,104.54 718.75,101.00 C720.42,97.46 721.04,93.67 722.50,88.50 C723.96,83.33 725.62,79.75 727.50,70.00 C729.38,60.25 732.71,36.67 733.75,30.00"/>
<path fill="none" stroke="#ff0000" stroke-width="0.8" d="M547.80,111.00 C547.80,111.00 555.60,118.75 555.60,118.75 C555.60,118.75 563.53,106.89 567.00,100.00 C570.47,93.11 573.07,84.28 576.40,77.40 C579.73,70.52 583.43,63.37 587.00,58.70 C590.57,54.03 594.88,51.27 597.80,49.40 C600.72,47.53 602.88,48.02 604.50,47.50 C606.12,46.98 604.08,45.62 607.50,46.25 C610.92,46.88 620.00,50.83 625.00,51.25 C630.00,51.67 633.33,49.46 637.50,48.75 C641.67,48.04 646.46,46.38 650.00,47.00 C653.54,47.62 656.25,50.75 658.75,52.50 C661.25,54.25 661.12,52.75 665.00,57.50 C668.88,62.25 677.08,73.72 682.00,81.00 C686.92,88.28 690.88,96.41 694.50,101.20 C698.12,105.99 703.75,109.75 703.75,109.75 C703.75,109.75 712.50,109.75 712.50,109.75 C712.50,109.75 717.08,104.54 718.75,101.00 C720.42,97.46 721.04,93.67 722.50,88.50 C723.96,83.33 725.62,79.75 727.50,70.00 C729.38,60.25 732.71,36.67 733.75,30.00"/>
<path fill="none" stroke="#00ff00" stroke-width="0.8" d="M545.00,158.75 C545.00,158.75 548.00,160.00 548.00,160.00 C548.00,160.00 555.60,166.25 555.60,166.25 C555.60,166.25 575.08,114.21 580.40,100.00 C585.72,85.79 585.50,86.55 587.50,81.00 C589.50,75.45 590.65,70.87 592.40,66.70 C594.15,62.53 595.98,58.88 598.00,56.00 C600.02,53.12 602.50,51.23 604.50,49.40 C606.50,47.57 606.58,46.57 610.00,45.00 C613.42,43.43 620.42,41.46 625.00,40.00 C629.58,38.54 633.96,36.67 637.50,36.25 C641.04,35.83 642.92,36.04 646.25,37.50 C649.58,38.96 654.38,42.50 657.50,45.00 C660.62,47.50 660.83,46.50 665.00,52.50 C669.17,58.50 677.50,72.92 682.50,81.00 C687.50,89.08 691.46,96.21 695.00,101.00 C698.54,105.79 703.75,109.75 703.75,109.75 C703.75,109.75 712.50,109.75 712.50,109.75 C712.50,109.75 717.08,104.54 718.75,101.00 C720.42,97.46 721.04,93.67 722.50,88.50 C723.96,83.33 725.62,79.75 727.50,70.00 C729.38,60.25 732.71,36.67 733.75,30.00"/>
<path fill="none" stroke="#0000ff" stroke-width="0.8" d="M571.25,186.00 C572.92,177.83 576.46,154.50 581.25,137.00 C586.04,119.50 596.04,92.17 600.00,81.00 C603.96,69.83 602.92,74.33 605.00,70.00 C607.08,65.67 609.17,60.21 612.50,55.00 C615.83,49.79 620.21,42.50 625.00,38.75 C629.79,35.00 637.08,32.92 641.25,32.50 C645.42,32.08 646.04,33.33 650.00,36.25 C653.96,39.17 659.58,42.54 665.00,50.00 C670.42,57.46 677.50,72.50 682.50,81.00 C687.50,89.50 691.46,96.21 695.00,101.00 C698.54,105.79 703.75,109.75 703.75,109.75 C703.75,109.75 712.50,109.75 712.50,109.75 C712.50,109.75 717.08,104.54 718.75,101.00 C720.42,97.46 721.04,93.67 722.50,88.50 C723.96,83.33 725.62,79.75 727.50,70.00 C729.38,60.25 732.71,36.67 733.75,30.00"/>
<path fill="none" stroke="#ff00ff" stroke-width="0.8" d="M583.00,186.00 C583.75,182.00 585.71,170.17 587.50,162.00 C589.29,153.83 591.04,146.75 593.75,137.00 C596.46,127.25 601.04,111.17 603.75,103.50 C606.46,95.83 608.33,94.75 610.00,91.00 C611.67,87.25 612.08,86.17 613.75,81.00 C615.42,75.83 617.71,66.00 620.00,60.00 C622.29,54.00 624.79,48.54 627.50,45.00 C630.21,41.46 632.92,40.21 636.25,38.75 C639.58,37.29 643.96,35.42 647.50,36.25 C651.04,37.08 654.58,41.25 657.50,43.75 C660.42,46.25 660.83,45.04 665.00,51.25 C669.17,57.46 677.50,72.71 682.50,81.00 C687.50,89.29 691.46,96.21 695.00,101.00 C698.54,105.79 703.75,109.75 703.75,109.75 C703.75,109.75 712.50,109.75 712.50,109.75 C712.50,109.75 717.08,104.54 718.75,101.00 C720.42,97.46 721.04,93.67 722.50,88.50 C723.96,83.33 725.62,79.75 727.50,70.00 C729.38,60.25 732.71,36.67 733.75,30.00"/>
<text x="544.75" y="194.40" font-size="10" text-anchor="middle" font-weight="normal" fill="#000" >0</text>
<text x="583.75" y="194.40" font-size="10" text-anchor="middle" font-weight="normal" fill="#000" >0.1</text>
<text x="622.75" y="194.40" font-size="10" text-anchor="middle" font-weight="normal" fill="#000" >0.2</text>
<text x="661.75" y="194.40" font-size="10" text-anchor="middle" font-weight="normal" fill="#000" >0.3</text>
<text x="700.75" y="194.40" font-size="10" text-anchor="middle" font-weight="normal" fill="#000" >0.4</text>
<text x="739.75" y="194.40" font-size="10" text-anchor="middle" font-weight="normal" fill="#000" >0.5</text>
<text x="542.60" y="190.30" font-size="10" text-anchor="end" font-weight="normal" fill="#000" >0</text>
<text x="542.60" y="164.30" font-size="10" text-anchor="end" font-weight="normal" fill="#000" >2</text>
<text x="542.60" y="138.30" font-size="10" text-anchor="end" font-weight="normal" fill="#000" >4</text>
<text x="542.60" y="112.30" font-size="10" text-anchor="end" font-weight="normal" fill="#000" >6</text>
<text x="542.60" y="86.30" font-size="10" text-anchor="end" font-weight="normal" fill="#000" >8</text>
<text x="542.60" y="60.30" font-size="10" text-anchor="end" font-weight="normal" fill="#000" >10</text>
<text x="542.60" y="34.30" font-size="10" text-anchor="end" font-weight="normal" fill="#000" >12</text>
<text x="513.80" y="11.80" font-size="14" text-anchor="start" font-weight="bold" fill="#000" >C</text>
<text x="635.3" y="205.6" font-size="11">Q<tspan font-size="7.5" dy="3.6">D1-Vt</tspan></text>
<text transform="translate(527.9,151.7) rotate(-90)" font-size="11">Free Energy (k<tspan font-size="7" dy="2.5">B</tspan><tspan dy="-2.5">T)</tspan></text>
<text x="548.00" y="151.00" font-size="14" text-anchor="start" font-weight="bold" fill="#000" >D</text>
<text x="637.30" y="75.80" font-size="14" text-anchor="start" font-weight="normal" fill="#3c4cf0" >TS1</text>
<path d="M642.00,46.10 V59.50 M638.70,50.30 H645.70 M638.70,55.00 H645.70" stroke="#3a3aff" stroke-width="1.9" fill="none"/>
<text x="700.60" y="101.40" font-size="15" text-anchor="start" font-weight="bold" fill="#000" >C</text>
<path d="M692.8,129.60 H704.4" stroke="#333333" stroke-width="1"/>
<text x="740.60" y="133.20" font-size="10" text-anchor="end" font-weight="normal" fill="#000" >0pN</text>
<path d="M692.8,139.80 H704.4" stroke="#ff0000" stroke-width="1"/>
<text x="740.60" y="143.40" font-size="10" text-anchor="end" font-weight="normal" fill="#000" >10pN</text>
<path d="M692.8,150.00 H704.4" stroke="#00ff00" stroke-width="1"/>
<text x="740.60" y="153.60" font-size="10" text-anchor="end" font-weight="normal" fill="#000" >20pN</text>
<path d="M692.8,160.20 H704.4" stroke="#0000ff" stroke-width="1"/>
<text x="740.60" y="163.80" font-size="10" text-anchor="end" font-weight="normal" fill="#000" >30pN</text>
<path d="M692.8,170.40 H704.4" stroke="#ff00ff" stroke-width="1"/>
<text x="740.60" y="174.00" font-size="10" text-anchor="end" font-weight="normal" fill="#000" >40pN</text>
</g></svg>
</body></html>
